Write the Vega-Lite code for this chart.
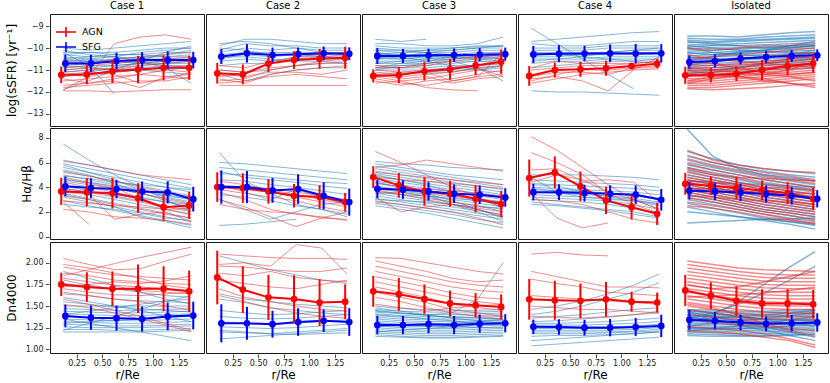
{
"$schema":"https://vega.github.io/schema/vega-lite/v6.json",
"padding":{"left":5,"top":1,"right":5,"bottom":0},
"datasets":{
"D":[
{"r":1,"p":1,"g":"S","i":1,"0.12":-10.2,"0.37":-10.8,"0.62":-12.1},
{"r":1,"p":1,"g":"S","i":2,"0.12":-10,"0.37":-10.1,"0.62":-10,"0.87":-9.9,"1.12":-9.8,"1.37":-9.7},
{"r":1,"p":1,"g":"S","i":3,"0.12":-10.3,"0.37":-10.2,"0.62":-10.2,"0.87":-10.1,"1.12":-10,"1.37":-10},
{"r":1,"p":1,"g":"S","i":4,"0.12":-10.5,"0.37":-10.4,"0.62":-10.3,"0.87":-10.3,"1.12":-10.2,"1.37":-10.2},
{"r":1,"p":1,"g":"S","i":5,"0.12":-10.6,"0.37":-10.6,"0.62":-10.5,"0.87":-10.4,"1.12":-10.4,"1.37":-10.3},
{"r":1,"p":1,"g":"S","i":6,"0.12":-10.8,"0.37":-10.7,"0.62":-10.6,"0.87":-10.6,"1.12":-10.5,"1.37":-10.5},
{"r":1,"p":1,"g":"S","i":7,"0.12":-11,"0.37":-10.9,"0.62":-10.8,"0.87":-10.7,"1.12":-10.7,"1.37":-10.6},
{"r":1,"p":1,"g":"S","i":8,"0.12":-11.1,"0.37":-11,"0.62":-11,"0.87":-10.9,"1.12":-10.8,"1.37":-10.8},
{"r":1,"p":1,"g":"S","i":9,"0.12":-11.3,"0.37":-11.2,"0.62":-11.1,"0.87":-11,"1.12":-11,"1.37":-10.9},
{"r":1,"p":1,"g":"S","i":10,"0.12":-10.4,"0.37":-10.5,"0.62":-10.6,"0.87":-10.7,"1.12":-10.8,"1.37":-10.9},
{"r":1,"p":1,"g":"S","i":11,"0.12":-10.1,"0.37":-10.3,"0.62":-10.4,"0.87":-10.6,"1.12":-10.9,"1.37":-11.6},
{"r":1,"p":1,"g":"S","i":12,"0.12":-11.9,"0.37":-11.5,"0.62":-11,"0.87":-10.6,"1.12":-10.2,"1.37":-9.9},
{"r":1,"p":1,"g":"S","i":13,"0.12":-10.7,"0.37":-10.6,"0.62":-10.6,"0.87":-10.5,"1.12":-10.3,"1.37":-10.1},
{"r":1,"p":1,"g":"S","i":14,"0.12":-10.9,"0.37":-10.8,"0.62":-10.8,"0.87":-10.7,"1.12":-10.6,"1.37":-10.6},
{"r":1,"p":1,"g":"S","i":15,"0.12":-10.2,"0.37":-10.2,"0.62":-10.3,"0.87":-10.3,"1.12":-10.4,"1.37":-10.4},
{"r":1,"p":1,"g":"S","i":16,"0.12":-10.6,"0.37":-10.5,"0.62":-10.4,"0.87":-10.2,"1.12":-10.1,"1.37":-10},
{"r":1,"p":1,"g":"S","i":17,"0.12":-11.2,"0.37":-11.1,"0.62":-10.9,"0.87":-10.8,"1.12":-10.7,"1.37":-10.7},
{"r":1,"p":1,"g":"S","i":18,"0.12":-10.3,"0.37":-10.4,"0.62":-10.4,"0.87":-10.5,"1.12":-10.5,"1.37":-10.6},
{"r":1,"p":1,"g":"S","i":19,"0.12":-10.8,"0.37":-10.9,"0.62":-11,"0.87":-11,"1.12":-11.1,"1.37":-11.2},
{"r":1,"p":1,"g":"S","i":20,"0.12":-10.5,"0.37":-10.6,"0.62":-10.7,"0.87":-10.6,"1.12":-10.6,"1.37":-10.5},
{"r":1,"p":1,"g":"A","i":1,"0.12":-11.9,"0.37":-11.3,"0.62":-9.8,"0.87":-9.5,"1.12":-9.4,"1.37":-9.6},
{"r":1,"p":1,"g":"A","i":2,"0.12":-11.95,"0.37":-11.95,"0.62":-12,"0.87":-11.95,"1.12":-11.9,"1.37":-11.9},
{"r":1,"p":1,"g":"A","i":3,"0.12":-11.2,"0.37":-11.3,"0.62":-11.1,"0.87":-11,"1.12":-10.9,"1.37":-10.8},
{"r":1,"p":1,"g":"A","i":4,"0.12":-11.5,"0.37":-11.4,"0.62":-11.3,"0.87":-11.2,"1.12":-11,"1.37":-11.1},
{"r":1,"p":1,"g":"A","i":5,"0.12":-10.9,"0.37":-10.8,"0.62":-10.7,"0.87":-10.6,"1.12":-10.5,"1.37":-10.4},
{"r":1,"p":1,"g":"A","i":6,"0.12":-11.7,"0.37":-11.6,"0.62":-11.5,"0.87":-11.8,"1.12":-11.3,"1.37":-11.2},
{"r":1,"p":1,"g":"A","i":7,"0.12":-11,"0.37":-10.9,"0.62":-11,"0.87":-10.8,"1.12":-10.7,"1.37":-10.6},
{"r":1,"p":1,"g":"A","i":8,"0.12":-11.4,"0.37":-11.6,"0.62":-11.4,"0.87":-11.2,"1.12":-11.3,"1.37":-11.4},
{"r":1,"p":1,"g":"A","i":9,"0.12":-11.8,"0.37":-11.7,"0.62":-11.6,"0.87":-11.5,"1.12":-11.5,"1.37":-11.3},
{"r":1,"p":1,"g":"A","i":10,"0.12":-11.1,"0.37":-11,"0.62":-10.9,"0.87":-10.7,"1.12":-10.6,"1.37":-10.5},
{"r":1,"p":1,"g":"A","i":11,"0.12":-11.3,"0.37":-11.1,"0.62":-11.2,"0.87":-11.6,"1.12":-11.4,"1.37":-11.1},
{"r":1,"p":1,"g":"A","i":12,"0.12":-10.6,"0.37":-10.7,"0.62":-10.5,"0.87":-10.4,"1.12":-10.3,"1.37":-10.2},
{"r":1,"p":2,"g":"S","i":1,"0.12":-9.9,"0.37":-9.6,"0.62":-9.6,"0.87":-9.7,"1.12":-9.8,"1.37":-9.8},
{"r":1,"p":2,"g":"S","i":2,"0.12":-10.1,"0.37":-9.8,"0.62":-9.9,"0.87":-9.9,"1.12":-10,"1.37":-10},
{"r":1,"p":2,"g":"S","i":3,"0.12":-10.2,"0.37":-10,"0.62":-10.1,"0.87":-10,"1.12":-10.1,"1.37":-10.1},
{"r":1,"p":2,"g":"S","i":4,"0.12":-10.3,"0.37":-10.2,"0.62":-10.2,"0.87":-10.2,"1.12":-10.2,"1.37":-10.2},
{"r":1,"p":2,"g":"S","i":5,"0.12":-10.5,"0.37":-10.3,"0.62":-10.4,"0.87":-10.3,"1.12":-10.3,"1.37":-10.3},
{"r":1,"p":2,"g":"S","i":6,"0.12":-10.6,"0.37":-10.5,"0.62":-10.6,"0.87":-10.4,"1.12":-10.4,"1.37":-10.4},
{"r":1,"p":2,"g":"S","i":7,"0.12":-10.8,"0.37":-10.7,"0.62":-10.7,"0.87":-10.5,"1.12":-10.5,"1.37":-10.5},
{"r":1,"p":2,"g":"S","i":8,"0.12":-11,"0.37":-11.1,"0.62":-11,"0.87":-10.8,"1.12":-10.7,"1.37":-10.6},
{"r":1,"p":2,"g":"S","i":9,"0.12":-11.2,"0.37":-11.5,"0.62":-11.2,"0.87":-11,"1.12":-10.9,"1.37":-10.9},
{"r":1,"p":2,"g":"S","i":10,"0.12":-10,"0.37":-10.1,"0.62":-10.3,"0.87":-10.3,"1.12":-10.4,"1.37":-10.5},
{"r":1,"p":2,"g":"S","i":11,"0.12":-10.4,"0.37":-10.4,"0.62":-10.5,"0.87":-10.6,"1.12":-10.6,"1.37":-10.7},
{"r":1,"p":2,"g":"S","i":12,"0.12":-9.8,"0.37":-9.7,"0.62":-9.8,"0.87":-10,"1.12":-10.2,"1.37":-10.3},
{"r":1,"p":2,"g":"A","i":1,"0.12":-11.7,"0.37":-11.7,"0.62":-11.7,"0.87":-11.7,"1.12":-11.7,"1.37":-11.7},
{"r":1,"p":2,"g":"A","i":2,"0.12":-11.5,"0.37":-11.4,"0.62":-11,"0.87":-10.8,"1.12":-10.6,"1.37":-10.5},
{"r":1,"p":2,"g":"A","i":3,"0.12":-11.3,"0.37":-11.2,"0.62":-10.7,"0.87":-10.4,"1.12":-10.3,"1.37":-10.2},
{"r":1,"p":2,"g":"A","i":4,"0.12":-11,"0.37":-11.1,"0.62":-10.9,"0.87":-10.8,"1.12":-10.7,"1.37":-10.7},
{"r":1,"p":2,"g":"A","i":5,"0.12":-11.4,"0.37":-11.6,"0.62":-11.2,"0.87":-11,"1.12":-10.9,"1.37":-10.8},
{"r":1,"p":2,"g":"A","i":6,"0.12":-10.8,"0.37":-10.9,"0.62":-10.6,"0.87":-10.5,"1.12":-10.4,"1.37":-10.3},
{"r":1,"p":2,"g":"A","i":7,"0.12":-11.2,"0.37":-11.3,"0.62":-11.1,"0.87":-11.1,"1.12":-11.2,"1.37":-11},
{"r":1,"p":2,"g":"A","i":8,"0.12":-11.6,"0.37":-11.5,"0.62":-11.3,"0.87":-11.2,"1.12":-11.3,"1.37":-11.4},
{"r":1,"p":3,"g":"S","i":1,"0.12":-9.6,"0.37":-9.7,"0.62":-9.6},
{"r":1,"p":3,"g":"S","i":2,"0.12":-9.8,"0.37":-9.8,"0.62":-9.9,"0.87":-9.9,"1.12":-9.8,"1.37":-9.5},
{"r":1,"p":3,"g":"S","i":3,"0.12":-9.9,"0.37":-10,"0.62":-10,"0.87":-10,"1.12":-9.9,"1.37":-9.9},
{"r":1,"p":3,"g":"S","i":4,"0.12":-10,"0.37":-10.1,"0.62":-10.1,"0.87":-10.1,"1.12":-10,"1.37":-10},
{"r":1,"p":3,"g":"S","i":5,"0.12":-10.1,"0.37":-10.2,"0.62":-10.2,"0.87":-10.2,"1.12":-10.1,"1.37":-10.1},
{"r":1,"p":3,"g":"S","i":6,"0.12":-10.2,"0.37":-10.3,"0.62":-10.3,"0.87":-10.3,"1.12":-10.2,"1.37":-10.2},
{"r":1,"p":3,"g":"S","i":7,"0.12":-10.3,"0.37":-10.3,"0.62":-10.4,"0.87":-10.3,"1.12":-10.3,"1.37":-10.3},
{"r":1,"p":3,"g":"S","i":8,"0.12":-10.4,"0.37":-10.4,"0.62":-10.4,"0.87":-10.4,"1.12":-10.3,"1.37":-10.3},
{"r":1,"p":3,"g":"S","i":9,"0.12":-10.5,"0.37":-10.5,"0.62":-10.5,"0.87":-10.5,"1.12":-10.4,"1.37":-10.4},
{"r":1,"p":3,"g":"S","i":10,"0.12":-10.6,"0.37":-10.6,"0.62":-10.6,"0.87":-10.5,"1.12":-10.5,"1.37":-10.5},
{"r":1,"p":3,"g":"S","i":11,"0.12":-10.7,"0.37":-10.7,"0.62":-10.7,"0.87":-10.6,"1.12":-10.6,"1.37":-10.6},
{"r":1,"p":3,"g":"S","i":12,"0.12":-10.8,"0.37":-10.8,"0.62":-10.8,"0.87":-10.7,"1.12":-10.6,"1.37":-10.7},
{"r":1,"p":3,"g":"S","i":13,"0.12":-10.9,"0.37":-10.9,"0.62":-10.9,"0.87":-10.8,"1.12":-10.8,"1.37":-10.7},
{"r":1,"p":3,"g":"S","i":14,"0.12":-11,"0.37":-11,"0.62":-11,"0.87":-10.9,"1.12":-10.9,"1.37":-10.8},
{"r":1,"p":3,"g":"S","i":15,"0.12":-11.2,"0.37":-11.1,"0.62":-11.1,"0.87":-11,"1.12":-11,"1.37":-10.9},
{"r":1,"p":3,"g":"S","i":16,"0.12":-11,"0.37":-10.8,"0.62":-10.7,"0.87":-10.6,"1.12":-10.9,"1.37":-11.5},
{"r":1,"p":3,"g":"S","i":17,"0.12":-10.2,"0.37":-10.4,"0.62":-10.6,"0.87":-10.8,"1.12":-11,"1.37":-11.1},
{"r":1,"p":3,"g":"S","i":18,"0.12":-10.5,"0.37":-10.4,"0.62":-10.2,"0.87":-10.1,"1.12":-10,"1.37":-9.9},
{"r":1,"p":3,"g":"S","i":19,"0.12":-10.3,"0.37":-10.2,"0.62":-10.1,"0.87":-10,"1.12":-9.95,"1.37":-9.9},
{"r":1,"p":3,"g":"S","i":20,"0.12":-10.7,"0.37":-10.6,"0.62":-10.5,"0.87":-10.4,"1.12":-10.3,"1.37":-10.2},
{"r":1,"p":3,"g":"S","i":21,"0.12":-10.9,"0.37":-10.7,"0.62":-10.6,"0.87":-10.4,"1.12":-10.4,"1.37":-10.3},
{"r":1,"p":3,"g":"S","i":22,"0.12":-10.1,"0.37":-10.1,"0.62":-10.2,"0.87":-10.3,"1.12":-10.4,"1.37":-10.5},
{"r":1,"p":3,"g":"S","i":23,"0.12":-10.4,"0.37":-10.5,"0.62":-10.4,"0.87":-10.4,"1.12":-10.5,"1.37":-10.6},
{"r":1,"p":3,"g":"S","i":24,"0.12":-11.3,"0.37":-11.2,"0.62":-11.1,"0.87":-11.1,"1.12":-10.9,"1.37":-10.8},
{"r":1,"p":3,"g":"A","i":1,"0.12":-11.3,"0.37":-11.5,"0.62":-11.8,"0.87":-11.9,"1.12":-11.95},
{"r":1,"p":3,"g":"A","i":2,"0.12":-11.2,"0.37":-11.4,"0.62":-11.3,"0.87":-11.6,"1.12":-11.4,"1.37":-11.3},
{"r":1,"p":3,"g":"A","i":3,"0.12":-11,"0.37":-11.1,"0.62":-11,"0.87":-10.9,"1.12":-10.8,"1.37":-10.7},
{"r":1,"p":3,"g":"A","i":4,"0.12":-11.5,"0.37":-11.7,"0.62":-11.5,"0.87":-11.4,"1.12":-11.2,"1.37":-11},
{"r":1,"p":3,"g":"A","i":5,"0.12":-11.1,"0.37":-11.2,"0.62":-11.1,"0.87":-11.5,"1.12":-11.3,"1.37":-10.2},
{"r":1,"p":3,"g":"A","i":6,"0.12":-10.9,"0.37":-10.9,"0.62":-10.8,"0.87":-10.6,"1.12":-10.5,"1.37":-10.4},
{"r":1,"p":3,"g":"A","i":7,"0.12":-11.6,"0.37":-11.5,"0.62":-11.4,"0.87":-11.2,"1.12":-11,"1.37":-10.8},
{"r":1,"p":3,"g":"A","i":8,"0.12":-11.2,"0.37":-11.3,"0.62":-11.2,"0.87":-11.1,"1.12":-10.9,"1.37":-11.3},
{"r":1,"p":3,"g":"A","i":9,"0.12":-11.4,"0.37":-11.6,"0.62":-11.7,"0.87":-11.5,"1.12":-11.3,"1.37":-11.2},
{"r":1,"p":3,"g":"A","i":10,"0.12":-10.8,"0.37":-10.9,"0.62":-10.7,"0.87":-10.5,"1.12":-10.4,"1.37":-10.3},
{"r":1,"p":4,"g":"S","i":1,"0.12":-9.1,"0.37":-9.8,"0.62":-10.5,"0.87":-11.2,"1.12":-11.85},
{"r":1,"p":4,"g":"S","i":2,"0.12":-11.95,"0.37":-12,"0.62":-12,"0.87":-12.05,"1.12":-12.1,"1.37":-12.15},
{"r":1,"p":4,"g":"S","i":3,"0.12":-9.7,"0.37":-9.6,"0.62":-9.5,"0.87":-9.4,"1.12":-9.3,"1.37":-9.25},
{"r":1,"p":4,"g":"S","i":4,"0.12":-9.8,"0.37":-9.9,"0.62":-9.9,"0.87":-9.8,"1.12":-9.7,"1.37":-9.7},
{"r":1,"p":4,"g":"S","i":5,"0.12":-10,"0.37":-10,"0.62":-10,"0.87":-9.9,"1.12":-9.9,"1.37":-9.9},
{"r":1,"p":4,"g":"S","i":6,"0.12":-10.1,"0.37":-10.1,"0.62":-10.1,"0.87":-10,"1.12":-10,"1.37":-10},
{"r":1,"p":4,"g":"S","i":7,"0.12":-10.2,"0.37":-10.2,"0.62":-10.2,"0.87":-10.2,"1.12":-10.1,"1.37":-10.1},
{"r":1,"p":4,"g":"S","i":8,"0.12":-10.3,"0.37":-10.3,"0.62":-10.3,"0.87":-10.3,"1.12":-10.2,"1.37":-10.2},
{"r":1,"p":4,"g":"S","i":9,"0.12":-10.4,"0.37":-10.4,"0.62":-10.3,"0.87":-10.3,"1.12":-10.3,"1.37":-10.3},
{"r":1,"p":4,"g":"S","i":10,"0.12":-10.5,"0.37":-10.5,"0.62":-10.5,"0.87":-10.4,"1.12":-10.4,"1.37":-10.4},
{"r":1,"p":4,"g":"S","i":11,"0.12":-10.7,"0.37":-10.6,"0.62":-10.6,"0.87":-10.5,"1.12":-10.5,"1.37":-10.5},
{"r":1,"p":4,"g":"S","i":12,"0.12":-10.9,"0.37":-10.8,"0.62":-10.7,"0.87":-10.6,"1.12":-10.6,"1.37":-10.5},
{"r":1,"p":4,"g":"S","i":13,"0.12":-10.2,"0.37":-10.3,"0.62":-10.4,"0.87":-10.5,"1.12":-10.6,"1.37":-10.7},
{"r":1,"p":4,"g":"S","i":14,"0.12":-10.6,"0.37":-10.5,"0.62":-10.4,"0.87":-10.2,"1.12":-10.1,"1.37":-10},
{"r":1,"p":4,"g":"A","i":1,"0.12":-11.4,"0.37":-11.3,"0.62":-11.5,"0.87":-11.95,"1.12":-11,"1.37":-10.4},
{"r":1,"p":4,"g":"A","i":2,"0.12":-11.5,"0.37":-11.2,"0.62":-11,"0.87":-11,"1.12":-10.9,"1.37":-10.8},
{"r":1,"p":4,"g":"A","i":3,"0.12":-11,"0.37":-10.9,"0.62":-10.8,"0.87":-10.8,"1.12":-10.7,"1.37":-10.6},
{"r":1,"p":4,"g":"A","i":4,"0.12":-11.3,"0.37":-11.1,"0.62":-11.1,"0.87":-11.2,"1.12":-10.9,"1.37":-10.9},
{"r":1,"p":4,"g":"A","i":5,"0.12":-10.9,"0.37":-10.6,"0.62":-10.7,"0.87":-10.7,"1.12":-10.7,"1.37":-10.6},
{"r":1,"p":4,"g":"A","i":6,"0.12":-11.6,"0.37":-11.4,"0.62":-11.2,"0.87":-11.1,"1.12":-11,"1.37":-10.95},
{"r":1,"p":5,"g":"S","i":1,"0.12":-9.45,"0.37":-9.45,"0.62":-9.5,"0.87":-9.4,"1.12":-9.3,"1.37":-9.25},
{"r":1,"p":5,"g":"S","i":2,"0.12":-9.55,"0.37":-9.6,"0.62":-9.6,"0.87":-9.5,"1.12":-9.45,"1.37":-9.4},
{"r":1,"p":5,"g":"S","i":3,"0.12":-9.65,"0.37":-9.7,"0.62":-9.65,"0.87":-9.6,"1.12":-9.55,"1.37":-9.5},
{"r":1,"p":5,"g":"S","i":4,"0.12":-9.75,"0.37":-9.75,"0.62":-9.7,"0.87":-9.65,"1.12":-9.6,"1.37":-9.55},
{"r":1,"p":5,"g":"S","i":5,"0.12":-9.85,"0.37":-9.85,"0.62":-9.8,"0.87":-9.75,"1.12":-9.7,"1.37":-9.65},
{"r":1,"p":5,"g":"S","i":6,"0.12":-9.95,"0.37":-9.9,"0.62":-9.9,"0.87":-9.85,"1.12":-9.8,"1.37":-9.75},
{"r":1,"p":5,"g":"S","i":7,"0.12":-10.05,"0.37":-10,"0.62":-10,"0.87":-9.95,"1.12":-9.9,"1.37":-9.85},
{"r":1,"p":5,"g":"S","i":8,"0.12":-10.15,"0.37":-10.1,"0.62":-10.05,"0.87":-10,"1.12":-9.95,"1.37":-9.9},
{"r":1,"p":5,"g":"S","i":9,"0.12":-10.25,"0.37":-10.2,"0.62":-10.15,"0.87":-10.1,"1.12":-10.05,"1.37":-10},
{"r":1,"p":5,"g":"S","i":10,"0.12":-10.35,"0.37":-10.3,"0.62":-10.25,"0.87":-10.2,"1.12":-10.15,"1.37":-10.1},
{"r":1,"p":5,"g":"S","i":11,"0.12":-10.45,"0.37":-10.4,"0.62":-10.35,"0.87":-10.3,"1.12":-10.25,"1.37":-10.2},
{"r":1,"p":5,"g":"S","i":12,"0.12":-10.55,"0.37":-10.5,"0.62":-10.45,"0.87":-10.4,"1.12":-10.35,"1.37":-10.3},
{"r":1,"p":5,"g":"S","i":13,"0.12":-10.65,"0.37":-10.6,"0.62":-10.55,"0.87":-10.5,"1.12":-10.45,"1.37":-10.4},
{"r":1,"p":5,"g":"S","i":14,"0.12":-10.75,"0.37":-10.7,"0.62":-10.65,"0.87":-10.6,"1.12":-10.55,"1.37":-10.5},
{"r":1,"p":5,"g":"S","i":15,"0.12":-10.85,"0.37":-10.8,"0.62":-10.75,"0.87":-10.7,"1.12":-10.65,"1.37":-10.6},
{"r":1,"p":5,"g":"S","i":16,"0.12":-10.95,"0.37":-10.9,"0.62":-10.85,"0.87":-10.8,"1.12":-10.75,"1.37":-10.7},
{"r":1,"p":5,"g":"S","i":17,"0.12":-11.05,"0.37":-11,"0.62":-10.95,"0.87":-10.9,"1.12":-10.85,"1.37":-10.8},
{"r":1,"p":5,"g":"S","i":18,"0.12":-11.15,"0.37":-11.1,"0.62":-11.05,"0.87":-11,"1.12":-10.95,"1.37":-10.9},
{"r":1,"p":5,"g":"S","i":19,"0.12":-10,"0.37":-10.2,"0.62":-10.3,"0.87":-10.35,"1.12":-10.4,"1.37":-10.5},
{"r":1,"p":5,"g":"S","i":20,"0.12":-10.6,"0.37":-10.4,"0.62":-10.2,"0.87":-10.1,"1.12":-10,"1.37":-9.9},
{"r":1,"p":5,"g":"S","i":21,"0.12":-9.9,"0.37":-10,"0.62":-10.1,"0.87":-10.15,"1.12":-10.2,"1.37":-10.25},
{"r":1,"p":5,"g":"S","i":22,"0.12":-10.4,"0.37":-10.5,"0.62":-10.5,"0.87":-10.45,"1.12":-10.3,"1.37":-10.1},
{"r":1,"p":5,"g":"S","i":23,"0.12":-10.8,"0.37":-10.6,"0.62":-10.5,"0.87":-10.4,"1.12":-10.3,"1.37":-10.25},
{"r":1,"p":5,"g":"S","i":24,"0.12":-9.7,"0.37":-9.8,"0.62":-9.9,"0.87":-10,"1.12":-10,"1.37":-9.9},
{"r":1,"p":5,"g":"S","i":25,"0.12":-10.2,"0.37":-10.3,"0.62":-10.2,"0.87":-10.1,"1.12":-9.9,"1.37":-9.7},
{"r":1,"p":5,"g":"S","i":26,"0.12":-11.2,"0.37":-11,"0.62":-10.9,"0.87":-10.7,"1.12":-10.6,"1.37":-10.5},
{"r":1,"p":5,"g":"A","i":1,"0.12":-10.5,"0.37":-10.4,"0.62":-10.3,"0.87":-10.2,"1.12":-10.1,"1.37":-10},
{"r":1,"p":5,"g":"A","i":2,"0.12":-10.7,"0.37":-10.6,"0.62":-10.5,"0.87":-10.4,"1.12":-10.3,"1.37":-10.2},
{"r":1,"p":5,"g":"A","i":3,"0.12":-10.8,"0.37":-10.8,"0.62":-10.7,"0.87":-10.6,"1.12":-10.5,"1.37":-10.4},
{"r":1,"p":5,"g":"A","i":4,"0.12":-10.9,"0.37":-10.9,"0.62":-10.8,"0.87":-10.7,"1.12":-10.6,"1.37":-10.5},
{"r":1,"p":5,"g":"A","i":5,"0.12":-11,"0.37":-11,"0.62":-10.9,"0.87":-10.8,"1.12":-10.7,"1.37":-10.6},
{"r":1,"p":5,"g":"A","i":6,"0.12":-11.1,"0.37":-11.1,"0.62":-11,"0.87":-10.9,"1.12":-10.8,"1.37":-10.7},
{"r":1,"p":5,"g":"A","i":7,"0.12":-11.2,"0.37":-11.2,"0.62":-11.1,"0.87":-11,"1.12":-10.9,"1.37":-10.8},
{"r":1,"p":5,"g":"A","i":8,"0.12":-11.3,"0.37":-11.3,"0.62":-11.2,"0.87":-11.1,"1.12":-11,"1.37":-10.9},
{"r":1,"p":5,"g":"A","i":9,"0.12":-11.4,"0.37":-11.4,"0.62":-11.3,"0.87":-11.2,"1.12":-11.1,"1.37":-11},
{"r":1,"p":5,"g":"A","i":10,"0.12":-11.5,"0.37":-11.5,"0.62":-11.4,"0.87":-11.3,"1.12":-11.2,"1.37":-11.1},
{"r":1,"p":5,"g":"A","i":11,"0.12":-11.6,"0.37":-11.6,"0.62":-11.5,"0.87":-11.4,"1.12":-11.3,"1.37":-11.2},
{"r":1,"p":5,"g":"A","i":12,"0.12":-11.7,"0.37":-11.7,"0.62":-11.6,"0.87":-11.5,"1.12":-11.4,"1.37":-11.3},
{"r":1,"p":5,"g":"A","i":13,"0.12":-11.8,"0.37":-11.8,"0.62":-11.7,"0.87":-11.6,"1.12":-11.5,"1.37":-11.4},
{"r":1,"p":5,"g":"A","i":14,"0.12":-11.85,"0.37":-11.9,"0.62":-11.85,"0.87":-11.8,"1.12":-11.7,"1.37":-11.6},
{"r":1,"p":5,"g":"A","i":15,"0.12":-10,"0.37":-10.1,"0.62":-10,"0.87":-9.9,"1.12":-9.9,"1.37":-9.8},
{"r":1,"p":5,"g":"A","i":16,"0.12":-10.3,"0.37":-10.5,"0.62":-10.6,"0.87":-10.7,"1.12":-10.8,"1.37":-10.9},
{"r":1,"p":5,"g":"A","i":17,"0.12":-11.6,"0.37":-11.4,"0.62":-11.2,"0.87":-11.2,"1.12":-11,"1.37":-10.6},
{"r":1,"p":5,"g":"A","i":18,"0.12":-11,"0.37":-11.2,"0.62":-11.3,"0.87":-11.5,"1.12":-11.6,"1.37":-11.8},
{"r":1,"p":5,"g":"A","i":19,"0.12":-10.9,"0.37":-11,"0.62":-11.1,"0.87":-11.2,"1.12":-11.3,"1.37":-11.5},
{"r":1,"p":5,"g":"A","i":20,"0.12":-11.3,"0.37":-11.1,"0.62":-10.9,"0.87":-10.7,"1.12":-10.5,"1.37":-10.3},
{"r":1,"p":5,"g":"A","i":21,"0.12":-10.6,"0.37":-10.7,"0.62":-10.9,"0.87":-11.1,"1.12":-11.2,"1.37":-11.1},
{"r":1,"p":5,"g":"A","i":22,"0.12":-11.5,"0.37":-11.3,"0.62":-11.3,"0.87":-11.4,"1.12":-11.6,"1.37":-11.7},
{"r":2,"p":1,"g":"S","i":1,"0.12":7.5,"0.37":6.2,"0.62":5,"0.87":4,"1.12":3,"1.37":2},
{"r":2,"p":1,"g":"S","i":2,"0.12":6.2,"0.37":5.8,"0.62":5.4,"0.87":5,"1.12":4.6,"1.37":4.2},
{"r":2,"p":1,"g":"S","i":3,"0.12":5.9,"0.37":5.5,"0.62":5.1,"0.87":4.7,"1.12":4.3,"1.37":3.9},
{"r":2,"p":1,"g":"S","i":4,"0.12":5.6,"0.37":5.2,"0.62":4.8,"0.87":4.4,"1.12":4,"1.37":3.6},
{"r":2,"p":1,"g":"S","i":5,"0.12":5.3,"0.37":4.9,"0.62":4.5,"0.87":4.1,"1.12":3.7,"1.37":3.3},
{"r":2,"p":1,"g":"S","i":6,"0.12":5,"0.37":4.6,"0.62":4.2,"0.87":3.8,"1.12":3.4,"1.37":3},
{"r":2,"p":1,"g":"S","i":7,"0.12":4.7,"0.37":4.3,"0.62":3.9,"0.87":3.5,"1.12":3.1,"1.37":2.7},
{"r":2,"p":1,"g":"S","i":8,"0.12":4.4,"0.37":4,"0.62":3.6,"0.87":3.2,"1.12":2.8,"1.37":2.4},
{"r":2,"p":1,"g":"S","i":9,"0.12":4.1,"0.37":3.7,"0.62":3.3,"0.87":2.9,"1.12":2.5,"1.37":2.1},
{"r":2,"p":1,"g":"S","i":10,"0.12":3.8,"0.37":3.4,"0.62":3,"0.87":2.6,"1.12":2.2,"1.37":1.8},
{"r":2,"p":1,"g":"S","i":11,"0.12":3.5,"0.37":3.1,"0.62":2.7,"0.87":2.3,"1.12":1.9,"1.37":1.5},
{"r":2,"p":1,"g":"S","i":12,"0.12":3.2,"0.37":2.8,"0.62":2.4,"0.87":2,"1.12":1.6,"1.37":1.2},
{"r":2,"p":1,"g":"S","i":13,"0.12":2.9,"0.37":2.5,"0.62":2.1,"0.87":1.7,"1.12":1.3,"1.37":0.9},
{"r":2,"p":1,"g":"S","i":14,"0.12":4.9,"0.37":4.7,"0.62":4.4,"0.87":4.2,"1.12":4,"1.37":3.8},
{"r":2,"p":1,"g":"S","i":15,"0.12":5.4,"0.37":5,"0.62":4.3,"0.87":3.6,"1.12":2.9,"1.37":2.2},
{"r":2,"p":1,"g":"S","i":16,"0.12":3.4,"0.37":3,"0.62":2.4,"0.87":1.6,"1.12":1.2,"1.37":0.7},
{"r":2,"p":1,"g":"S","i":17,"0.12":2.6,"0.37":2.4,"0.62":2.2,"0.87":1.9,"1.12":1.5,"1.37":1.3},
{"r":2,"p":1,"g":"S","i":18,"0.12":4.6,"0.37":4.4,"0.62":4.1,"0.87":3.7,"1.12":3.3,"1.37":3},
{"r":2,"p":1,"g":"S","i":19,"0.12":3.9,"0.37":3.6,"0.62":3.4,"0.87":3.1,"1.12":2.8,"1.37":2.6},
{"r":2,"p":1,"g":"S","i":20,"0.12":5.8,"0.37":5.2,"0.62":4.6,"0.87":3.8,"1.12":3.2,"1.37":2.8},
{"r":2,"p":1,"g":"A","i":1,"0.12":6.1,"0.37":5.8,"0.62":5.4,"0.87":5,"1.12":4.8,"1.37":4.6},
{"r":2,"p":1,"g":"A","i":2,"0.12":5.2,"0.37":4.9,"0.62":4.5,"0.87":4,"1.12":3.6,"1.37":3.2},
{"r":2,"p":1,"g":"A","i":3,"0.12":4.5,"0.37":4.2,"0.62":3.9,"0.87":3.5,"1.12":3,"1.37":2.6},
{"r":2,"p":1,"g":"A","i":4,"0.12":3.9,"0.37":3.6,"0.62":3.2,"0.87":2.8,"1.12":2.4,"1.37":2},
{"r":2,"p":1,"g":"A","i":5,"0.12":3.3,"0.37":3,"0.62":2.6,"0.87":2.2,"1.12":1.8,"1.37":1.5},
{"r":2,"p":1,"g":"A","i":6,"0.12":2.8,"0.37":1},
{"r":2,"p":1,"g":"A","i":7,"0.12":2.2,"0.37":2,"0.62":1.6,"0.87":1.5,"1.12":1.3,"1.37":1},
{"r":2,"p":1,"g":"A","i":8,"0.12":4.8,"0.37":4.4,"0.62":4,"0.87":3,"1.12":2.2,"1.37":1.8},
{"r":2,"p":1,"g":"A","i":9,"0.12":3.6,"0.37":3.4,"0.62":1.4,"0.87":1.8,"1.12":2,"1.37":1.2},
{"r":2,"p":1,"g":"A","i":10,"0.12":2.9,"0.37":2.7,"0.62":2.5,"0.87":2.4,"1.12":2.2,"1.37":2.3},
{"r":2,"p":2,"g":"S","i":1,"0.12":6.8,"0.37":4.5,"0.62":3.5,"0.87":2.6,"1.12":2.2,"1.37":1.6},
{"r":2,"p":2,"g":"S","i":2,"0.12":6,"0.37":5.9,"0.62":5.7,"0.87":5.5,"1.12":5.3,"1.37":5.1},
{"r":2,"p":2,"g":"S","i":3,"0.12":5.6,"0.37":5.4,"0.62":5.2,"0.87":5,"1.12":4.8,"1.37":4.6},
{"r":2,"p":2,"g":"S","i":4,"0.12":5.1,"0.37":5,"0.62":4.8,"0.87":4.6,"1.12":4.4,"1.37":4.3},
{"r":2,"p":2,"g":"S","i":5,"0.12":4.6,"0.37":4.5,"0.62":4.2,"0.87":4,"1.12":3.7,"1.37":3.4},
{"r":2,"p":2,"g":"S","i":6,"0.12":3,"0.37":2.2,"0.62":1.4,"0.87":2,"1.12":2.6,"1.37":2.8},
{"r":2,"p":2,"g":"S","i":7,"0.12":0.9,"0.37":1,"0.62":1.2,"0.87":1.4},
{"r":2,"p":2,"g":"S","i":8,"0.12":4.2,"0.37":3.6,"0.62":3,"0.87":3.8,"1.12":3.2,"1.37":2.6},
{"r":2,"p":2,"g":"S","i":9,"0.12":3.4,"0.37":3.2,"0.62":2.9,"0.87":2.5,"1.12":2.2,"1.37":1.8},
{"r":2,"p":2,"g":"S","i":10,"0.12":5.3,"0.37":4.8,"0.62":4.6,"0.87":4.4,"1.12":4.1,"1.37":3.9},
{"r":2,"p":2,"g":"A","i":1,"0.12":4.5,"0.37":4.2,"0.62":3.8,"0.87":3.4,"1.12":3,"1.37":2.6},
{"r":2,"p":2,"g":"A","i":2,"0.12":4,"0.37":3.8,"0.62":3.6,"0.87":3.2,"1.12":2.8,"1.37":2.4},
{"r":2,"p":2,"g":"A","i":3,"0.12":3.6,"0.37":3,"0.62":2.2,"0.87":1.8,"1.12":1.6,"1.37":1.3},
{"r":2,"p":2,"g":"A","i":4,"0.12":3,"0.37":2.4,"0.62":1.6,"0.87":0.8,"1.12":1.5,"1.37":2},
{"r":2,"p":2,"g":"A","i":5,"0.12":4.2,"0.37":4,"0.62":3.9,"0.87":3.6,"1.12":3.3,"1.37":3},
{"r":2,"p":2,"g":"A","i":6,"0.12":2.6,"0.37":2.2,"0.62":2,"0.87":1.9,"1.12":1.5,"1.37":1.4},
{"r":2,"p":2,"g":"A","i":7,"0.12":3.8,"0.37":3.5,"0.62":3.2,"0.87":2.9,"1.12":2.4,"1.37":2},
{"r":2,"p":3,"g":"S","i":1,"0.12":6.1,"0.37":5.9,"0.62":5.8,"0.87":5.6,"1.12":5.5,"1.37":5.4},
{"r":2,"p":3,"g":"S","i":2,"0.12":5.9,"0.37":5.6,"0.62":5.3,"0.87":5,"1.12":4.8,"1.37":4.6},
{"r":2,"p":3,"g":"S","i":3,"0.12":5.7,"0.37":5.4,"0.62":5.1,"0.87":4.8,"1.12":4.5,"1.37":4.2},
{"r":2,"p":3,"g":"S","i":4,"0.12":5.5,"0.37":5.2,"0.62":4.9,"0.87":4.6,"1.12":4.3,"1.37":4},
{"r":2,"p":3,"g":"S","i":5,"0.12":5.3,"0.37":5,"0.62":4.7,"0.87":4.4,"1.12":4.1,"1.37":3.8},
{"r":2,"p":3,"g":"S","i":6,"0.12":5.1,"0.37":4.8,"0.62":4.5,"0.87":4.2,"1.12":3.9,"1.37":3.6},
{"r":2,"p":3,"g":"S","i":7,"0.12":4.9,"0.37":4.6,"0.62":4.3,"0.87":4,"1.12":3.7,"1.37":3.4},
{"r":2,"p":3,"g":"S","i":8,"0.12":4.7,"0.37":4.4,"0.62":4.1,"0.87":3.8,"1.12":3.5,"1.37":3.2},
{"r":2,"p":3,"g":"S","i":9,"0.12":4.5,"0.37":4.2,"0.62":3.9,"0.87":3.6,"1.12":3.3,"1.37":3},
{"r":2,"p":3,"g":"S","i":10,"0.12":4.3,"0.37":4,"0.62":3.7,"0.87":3.4,"1.12":3.1,"1.37":2.8},
{"r":2,"p":3,"g":"S","i":11,"0.12":4.1,"0.37":3.8,"0.62":3.5,"0.87":3.2,"1.12":2.9,"1.37":2.6},
{"r":2,"p":3,"g":"S","i":12,"0.12":3.9,"0.37":3.6,"0.62":3.3,"0.87":3,"1.12":2.7,"1.37":2.4},
{"r":2,"p":3,"g":"S","i":13,"0.12":3.7,"0.37":3.4,"0.62":3.1,"0.87":2.8,"1.12":2.5,"1.37":2.2},
{"r":2,"p":3,"g":"S","i":14,"0.12":3.5,"0.37":3.2,"0.62":2.9,"0.87":2.6,"1.12":2.3,"1.37":2},
{"r":2,"p":3,"g":"S","i":15,"0.12":3.3,"0.37":3,"0.62":2.7,"0.87":2.4,"1.12":2.1,"1.37":1.8},
{"r":2,"p":3,"g":"S","i":16,"0.12":3.1,"0.37":2.8,"0.62":2.5,"0.87":2.2,"1.12":1.9,"1.37":1.6},
{"r":2,"p":3,"g":"S","i":17,"0.12":2.9,"0.37":2.6,"0.62":2.3,"0.87":2,"1.12":1.7,"1.37":1.4},
{"r":2,"p":3,"g":"S","i":18,"0.12":2.7,"0.37":2.4,"0.62":2.1,"0.87":1.8,"1.12":1.4,"1.37":1.1},
{"r":2,"p":3,"g":"S","i":19,"0.12":2.5,"0.37":2.2,"0.62":1.9,"0.87":1.5,"1.12":1.1,"1.37":0.7},
{"r":2,"p":3,"g":"S","i":20,"0.12":4.4,"0.37":4,"0.62":3.5,"0.87":2.9,"1.12":2.2,"1.37":1.5},
{"r":2,"p":3,"g":"S","i":21,"0.12":3.6,"0.37":3.4,"0.62":3.3,"0.87":3.1,"1.12":2.9,"1.37":2.8},
{"r":2,"p":3,"g":"S","i":22,"0.12":5,"0.37":4.6,"0.62":4.2,"0.87":3.6,"1.12":3,"1.37":2.4},
{"r":2,"p":3,"g":"S","i":23,"0.12":4,"0.37":3.7,"0.62":3.4,"0.87":2.6,"1.12":2,"1.37":1.2},
{"r":2,"p":3,"g":"S","i":24,"0.12":3,"0.37":2.9,"0.62":2.8,"0.87":2.6,"1.12":2.4,"1.37":2.3},
{"r":2,"p":3,"g":"A","i":1,"0.12":6.9,"0.37":6,"0.62":5,"0.87":4,"1.12":3.2,"1.37":2.3},
{"r":2,"p":3,"g":"A","i":2,"0.12":5.6,"0.37":5.8,"0.62":6.2,"0.87":5.9,"1.12":5.6,"1.37":5.3},
{"r":2,"p":3,"g":"A","i":3,"0.12":4.8,"0.37":4.6,"0.62":4.5,"0.87":4.3,"1.12":4.1,"1.37":3.9},
{"r":2,"p":3,"g":"A","i":4,"0.12":4.4,"0.37":4,"0.62":3.6,"0.87":3.3,"1.12":3,"1.37":2.8},
{"r":2,"p":3,"g":"A","i":5,"0.12":3.8,"0.37":3.4,"0.62":3,"0.87":2.6,"1.12":2.2,"1.37":1.7},
{"r":2,"p":3,"g":"A","i":6,"0.12":3.2,"0.37":2,"0.62":2.4,"0.87":2.6,"1.12":2.2,"1.37":1.6},
{"r":2,"p":3,"g":"A","i":7,"0.12":2.8,"0.37":2.6,"0.62":2.3,"0.87":2,"1.12":1.5,"1.37":0.95},
{"r":2,"p":3,"g":"A","i":8,"0.12":5.2,"0.37":5,"0.62":4.8,"0.87":4.6,"1.12":4.4,"1.37":4.2},
{"r":2,"p":3,"g":"A","i":9,"0.12":4,"0.37":3.8,"0.62":3.9,"0.87":3.7,"1.12":3.5,"1.37":3.3},
{"r":2,"p":3,"g":"A","i":10,"0.12":3.5,"0.37":3.6,"0.62":3.2,"0.87":2.8,"1.12":2.5,"1.37":2},
{"r":2,"p":4,"g":"S","i":1,"0.12":5,"0.37":5,"0.62":5,"0.87":4.9,"1.12":4.8,"1.37":4.6},
{"r":2,"p":4,"g":"S","i":2,"0.12":4.6,"0.37":4.5,"0.62":4.4,"0.87":4.3,"1.12":4.2,"1.37":4},
{"r":2,"p":4,"g":"S","i":3,"0.12":4.3,"0.37":4.2,"0.62":4.1,"0.87":4,"1.12":3.9,"1.37":3.7},
{"r":2,"p":4,"g":"S","i":4,"0.12":4,"0.37":3.9,"0.62":3.8,"0.87":3.7,"1.12":3.6,"1.37":3.4},
{"r":2,"p":4,"g":"S","i":5,"0.12":3.8,"0.37":3.7,"0.62":3.6,"0.87":3.5,"1.12":3.4,"1.37":3.1},
{"r":2,"p":4,"g":"S","i":6,"0.12":3.6,"0.37":3.5,"0.62":3.4,"0.87":3.3,"1.12":3.1,"1.37":2.8},
{"r":2,"p":4,"g":"S","i":7,"0.12":3.4,"0.37":3.3,"0.62":3.2,"0.87":3.1,"1.12":2.9,"1.37":2.5},
{"r":2,"p":4,"g":"S","i":8,"0.12":3.2,"0.37":3.1,"0.62":3,"0.87":2.9,"1.12":2.6,"1.37":2.2},
{"r":2,"p":4,"g":"S","i":9,"0.12":3,"0.37":2.9,"0.62":2.8,"0.87":2.6,"1.12":2.3,"1.37":1.9},
{"r":2,"p":4,"g":"S","i":10,"0.12":2.8,"0.37":2.6,"0.62":2.4,"0.87":2.2,"1.12":2,"1.37":1.6},
{"r":2,"p":4,"g":"S","i":11,"0.12":4.8,"0.37":3.6,"0.62":3.2,"0.87":3,"1.12":2.9,"1.37":2.7},
{"r":2,"p":4,"g":"S","i":12,"0.12":2.6,"0.37":2.5,"0.62":2.3,"0.87":2.1,"1.12":1.8,"1.37":1.5},
{"r":2,"p":4,"g":"S","i":13,"0.12":4.2,"0.37":4.1,"0.62":3.6,"0.87":3.2,"1.12":3,"1.37":2.6},
{"r":2,"p":4,"g":"S","i":14,"0.12":3.9,"0.37":3.7,"0.62":3.7,"0.87":3.5,"1.12":3.3,"1.37":3},
{"r":2,"p":4,"g":"A","i":1,"0.12":8.1,"0.37":7,"0.62":5.6,"0.87":4.2,"1.12":3,"1.37":2.2},
{"r":2,"p":4,"g":"A","i":2,"0.12":6.8,"0.37":6,"0.62":5,"0.87":3.5,"1.12":2.6,"1.37":1.9},
{"r":2,"p":4,"g":"A","i":3,"0.12":4.4,"0.37":5,"0.62":4.6,"0.87":3.6,"1.12":3,"1.37":2.2},
{"r":2,"p":4,"g":"A","i":4,"0.12":3.5,"0.37":1.5,"0.62":0.7,"0.87":1.1},
{"r":2,"p":4,"g":"A","i":5,"0.12":5.4,"0.37":5.5,"0.62":4.5,"0.87":4.6,"1.12":4.4,"1.37":2.8},
{"r":2,"p":4,"g":"A","i":6,"0.12":3,"0.37":2.9,"0.62":2.6,"0.87":2,"1.12":1.4,"1.37":1.1},
{"r":2,"p":5,"g":"S","i":1,"0.12":8.7,"0.37":6.5,"0.62":5.5,"0.87":5,"1.12":4.8,"1.37":4.5},
{"r":2,"p":5,"g":"S","i":2,"0.12":6.9,"0.37":6.3,"0.62":5.8,"0.87":5.5,"1.12":5.3,"1.37":5.1},
{"r":2,"p":5,"g":"S","i":3,"0.12":6.6,"0.37":6,"0.62":5.6,"0.87":5.3,"1.12":5,"1.37":4.8},
{"r":2,"p":5,"g":"S","i":4,"0.12":6.3,"0.37":5.8,"0.62":5.4,"0.87":5,"1.12":4.7,"1.37":4.5},
{"r":2,"p":5,"g":"S","i":5,"0.12":6,"0.37":5.6,"0.62":5.2,"0.87":4.8,"1.12":4.5,"1.37":4.2},
{"r":2,"p":5,"g":"S","i":6,"0.12":5.8,"0.37":5.4,"0.62":5,"0.87":4.6,"1.12":4.3,"1.37":4},
{"r":2,"p":5,"g":"S","i":7,"0.12":5.6,"0.37":5.2,"0.62":4.8,"0.87":4.4,"1.12":4.1,"1.37":3.8},
{"r":2,"p":5,"g":"S","i":8,"0.12":5.4,"0.37":5,"0.62":4.6,"0.87":4.2,"1.12":3.9,"1.37":3.6},
{"r":2,"p":5,"g":"S","i":9,"0.12":5.2,"0.37":4.8,"0.62":4.4,"0.87":4,"1.12":3.7,"1.37":3.4},
{"r":2,"p":5,"g":"S","i":10,"0.12":5,"0.37":4.6,"0.62":4.2,"0.87":3.8,"1.12":3.5,"1.37":3.2},
{"r":2,"p":5,"g":"S","i":11,"0.12":4.8,"0.37":4.4,"0.62":4,"0.87":3.6,"1.12":3.3,"1.37":3},
{"r":2,"p":5,"g":"S","i":12,"0.12":4.6,"0.37":4.2,"0.62":3.8,"0.87":3.4,"1.12":3.1,"1.37":2.8},
{"r":2,"p":5,"g":"S","i":13,"0.12":4.4,"0.37":4,"0.62":3.6,"0.87":3.2,"1.12":2.9,"1.37":2.6},
{"r":2,"p":5,"g":"S","i":14,"0.12":4.2,"0.37":3.8,"0.62":3.4,"0.87":3,"1.12":2.7,"1.37":2.4},
{"r":2,"p":5,"g":"S","i":15,"0.12":4,"0.37":3.6,"0.62":3.2,"0.87":2.8,"1.12":2.5,"1.37":2.2},
{"r":2,"p":5,"g":"S","i":16,"0.12":3.8,"0.37":3.4,"0.62":3,"0.87":2.6,"1.12":2.3,"1.37":2},
{"r":2,"p":5,"g":"S","i":17,"0.12":3.6,"0.37":3.2,"0.62":2.8,"0.87":2.4,"1.12":2.1,"1.37":1.8},
{"r":2,"p":5,"g":"S","i":18,"0.12":3.4,"0.37":3,"0.62":2.6,"0.87":2.2,"1.12":1.9,"1.37":1.6},
{"r":2,"p":5,"g":"S","i":19,"0.12":3.2,"0.37":2.8,"0.62":2.4,"0.87":2,"1.12":1.7,"1.37":1.4},
{"r":2,"p":5,"g":"S","i":20,"0.12":3,"0.37":2.6,"0.62":2.2,"0.87":1.8,"1.12":1.5,"1.37":1.2},
{"r":2,"p":5,"g":"S","i":21,"0.12":2.7,"0.37":2.3,"0.62":1.9,"0.87":1.5,"1.12":1.2,"1.37":0.9},
{"r":2,"p":5,"g":"S","i":22,"0.12":2.4,"0.37":2,"0.62":1.6,"0.87":1.3,"1.12":1,"1.37":0.6},
{"r":2,"p":5,"g":"S","i":23,"0.12":1.1,"0.37":1.2,"0.62":1.3,"0.87":1.4,"1.12":1.4,"1.37":1.5},
{"r":2,"p":5,"g":"S","i":24,"0.12":2,"0.37":1.8,"0.62":1.6,"0.87":1.4,"1.12":1.2,"1.37":1},
{"r":2,"p":5,"g":"S","i":25,"0.12":4.5,"0.37":4.4,"0.62":4.3,"0.87":4.2,"1.12":4.1,"1.37":4},
{"r":2,"p":5,"g":"S","i":26,"0.12":3.9,"0.37":3.9,"0.62":3.7,"0.87":3.5,"1.12":3.3,"1.37":3.1},
{"r":2,"p":5,"g":"A","i":1,"0.12":7,"0.37":6.2,"0.62":5.8,"0.87":5.5,"1.12":5.3,"1.37":5.2},
{"r":2,"p":5,"g":"A","i":2,"0.12":6.5,"0.37":6,"0.62":5.6,"0.87":5.2,"1.12":4.9,"1.37":4.6},
{"r":2,"p":5,"g":"A","i":3,"0.12":6.2,"0.37":5.7,"0.62":5.3,"0.87":4.9,"1.12":4.6,"1.37":4.3},
{"r":2,"p":5,"g":"A","i":4,"0.12":5.9,"0.37":5.4,"0.62":5,"0.87":4.6,"1.12":4.3,"1.37":4},
{"r":2,"p":5,"g":"A","i":5,"0.12":5.6,"0.37":5.1,"0.62":4.7,"0.87":4.3,"1.12":4,"1.37":3.7},
{"r":2,"p":5,"g":"A","i":6,"0.12":5.3,"0.37":4.8,"0.62":4.4,"0.87":4,"1.12":3.7,"1.37":3.4},
{"r":2,"p":5,"g":"A","i":7,"0.12":5,"0.37":4.6,"0.62":4.2,"0.87":3.8,"1.12":3.5,"1.37":3.2},
{"r":2,"p":5,"g":"A","i":8,"0.12":4.8,"0.37":4.4,"0.62":4,"0.87":3.6,"1.12":3.3,"1.37":3},
{"r":2,"p":5,"g":"A","i":9,"0.12":4.6,"0.37":4.2,"0.62":3.8,"0.87":3.4,"1.12":3.1,"1.37":2.8},
{"r":2,"p":5,"g":"A","i":10,"0.12":4.4,"0.37":4,"0.62":3.6,"0.87":3.2,"1.12":2.9,"1.37":2.6},
{"r":2,"p":5,"g":"A","i":11,"0.12":4.2,"0.37":3.8,"0.62":3.4,"0.87":3,"1.12":2.7,"1.37":2.4},
{"r":2,"p":5,"g":"A","i":12,"0.12":4,"0.37":3.6,"0.62":3.2,"0.87":2.8,"1.12":2.5,"1.37":2.2},
{"r":2,"p":5,"g":"A","i":13,"0.12":3.8,"0.37":3.4,"0.62":3,"0.87":2.6,"1.12":2.3,"1.37":2},
{"r":2,"p":5,"g":"A","i":14,"0.12":3.6,"0.37":3.2,"0.62":2.8,"0.87":2.4,"1.12":2.1,"1.37":1.8},
{"r":2,"p":5,"g":"A","i":15,"0.12":3.4,"0.37":3,"0.62":2.6,"0.87":2.2,"1.12":1.9,"1.37":1.6},
{"r":2,"p":5,"g":"A","i":16,"0.12":3.1,"0.37":2.8,"0.62":2.4,"0.87":2,"1.12":1.7,"1.37":1.3},
{"r":2,"p":5,"g":"A","i":17,"0.12":2.8,"0.37":2.5,"0.62":2.2,"0.87":1.8,"1.12":1.4,"1.37":1},
{"r":2,"p":5,"g":"A","i":18,"0.12":2.5,"0.37":2.3,"0.62":2,"0.87":1.6,"1.12":1.3,"1.37":1.1},
{"r":2,"p":5,"g":"A","i":19,"0.12":4.5,"0.37":4.4,"0.62":4.2,"0.87":4,"1.12":3.9,"1.37":3.8},
{"r":2,"p":5,"g":"A","i":20,"0.12":5.5,"0.37":5,"0.62":4.8,"0.87":4.7,"1.12":4.6,"1.37":4.5},
{"r":2,"p":5,"g":"A","i":21,"0.12":3.9,"0.37":3.8,"0.62":3.7,"0.87":3.6,"1.12":3.5,"1.37":3.5},
{"r":2,"p":5,"g":"A","i":22,"0.12":3.3,"0.37":3.2,"0.62":3,"0.87":2.9,"1.12":2.8,"1.37":2.6},
{"r":3,"p":1,"g":"S","i":1,"0.12":1.9,"0.37":1.82,"0.62":1.74,"0.87":1.66,"1.12":1.58,"1.37":1.52},
{"r":3,"p":1,"g":"S","i":2,"0.12":1.8,"0.37":1.74,"0.62":1.7,"0.87":1.66,"1.12":1.62,"1.37":1.6},
{"r":3,"p":1,"g":"S","i":3,"0.12":1.66,"0.37":1.62,"0.62":1.58,"0.87":1.56,"1.12":1.55,"1.37":1.54},
{"r":3,"p":1,"g":"S","i":4,"0.12":1.5,"0.37":1.5,"0.62":1.5,"0.87":1.5,"1.12":1.5,"1.37":1.5},
{"r":3,"p":1,"g":"S","i":5,"0.12":1.47,"0.37":1.46,"0.62":1.45,"0.87":1.45,"1.12":1.46,"1.37":1.47},
{"r":3,"p":1,"g":"S","i":6,"0.12":1.44,"0.37":1.43,"0.62":1.42,"0.87":1.42,"1.12":1.43,"1.37":1.44},
{"r":3,"p":1,"g":"S","i":7,"0.12":1.41,"0.37":1.4,"0.62":1.39,"0.87":1.39,"1.12":1.4,"1.37":1.41},
{"r":3,"p":1,"g":"S","i":8,"0.12":1.38,"0.37":1.37,"0.62":1.36,"0.87":1.36,"1.12":1.37,"1.37":1.38},
{"r":3,"p":1,"g":"S","i":9,"0.12":1.35,"0.37":1.34,"0.62":1.33,"0.87":1.33,"1.12":1.34,"1.37":1.35},
{"r":3,"p":1,"g":"S","i":10,"0.12":1.32,"0.37":1.31,"0.62":1.3,"0.87":1.3,"1.12":1.31,"1.37":1.32},
{"r":3,"p":1,"g":"S","i":11,"0.12":1.29,"0.37":1.28,"0.62":1.27,"0.87":1.27,"1.12":1.28,"1.37":1.29},
{"r":3,"p":1,"g":"S","i":12,"0.12":1.26,"0.37":1.25,"0.62":1.25,"0.87":1.25,"1.12":1.26,"1.37":1.27},
{"r":3,"p":1,"g":"S","i":13,"0.12":1.23,"0.37":1.23,"0.62":1.22,"0.87":1.22,"1.12":1.23,"1.37":1.24},
{"r":3,"p":1,"g":"S","i":14,"0.12":1.2,"0.37":1.2,"0.62":1.2,"0.87":1.2,"1.12":1.21,"1.37":1.22},
{"r":3,"p":1,"g":"S","i":15,"0.12":1.35,"0.37":1.3,"0.62":1.25,"0.87":1.2,"1.12":1.15,"1.37":1.1},
{"r":3,"p":1,"g":"S","i":16,"0.12":1.22,"0.37":1.3,"0.62":1.38,"0.87":1.46,"1.12":1.55,"1.37":1.62},
{"r":3,"p":1,"g":"S","i":17,"0.12":1.55,"0.37":1.52,"0.62":1.49,"0.87":1.47,"1.12":1.45,"1.37":1.43},
{"r":3,"p":1,"g":"S","i":18,"0.12":1.4,"0.37":1.44,"0.62":1.48,"0.87":1.52,"1.12":1.56,"1.37":1.58},
{"r":3,"p":1,"g":"S","i":19,"0.12":1.6,"0.37":1.55,"0.62":1.5,"0.87":1.45,"1.12":1.38,"1.37":1.32},
{"r":3,"p":1,"g":"S","i":20,"0.12":1.3,"0.37":1.32,"0.62":1.33,"0.87":1.35,"1.12":1.38,"1.37":1.4},
{"r":3,"p":1,"g":"A","i":1,"0.12":1.85,"0.37":1.92,"0.62":1.99,"0.87":2.06,"1.12":2.12,"1.37":2.18},
{"r":3,"p":1,"g":"A","i":2,"0.12":2.05,"0.37":1.98,"0.62":1.92,"0.87":1.93,"1.12":2.02,"1.37":2.1},
{"r":3,"p":1,"g":"A","i":3,"0.12":1.95,"0.37":1.9,"0.62":1.86,"0.87":1.84,"1.12":1.82,"1.37":1.8},
{"r":3,"p":1,"g":"A","i":4,"0.12":1.88,"0.37":1.85,"0.62":1.8,"0.87":1.78,"1.12":1.76,"1.37":1.75},
{"r":3,"p":1,"g":"A","i":5,"0.12":1.82,"0.37":1.78,"0.62":1.74,"0.87":1.72,"1.12":1.7,"1.37":1.68},
{"r":3,"p":1,"g":"A","i":6,"0.12":1.76,"0.37":1.73,"0.62":1.7,"0.87":1.68,"1.12":1.66,"1.37":1.64},
{"r":3,"p":1,"g":"A","i":7,"0.12":1.7,"0.37":1.66,"0.62":1.63,"0.87":1.62,"1.12":1.64,"1.37":1.66},
{"r":3,"p":1,"g":"A","i":8,"0.12":1.64,"0.37":1.62,"0.62":1.58,"0.87":1.55,"1.12":1.5,"1.37":1.45},
{"r":3,"p":1,"g":"A","i":9,"0.12":1.58,"0.37":1.52,"0.62":1.45,"0.87":1.38,"1.12":1.3,"1.37":1.22},
{"r":3,"p":1,"g":"A","i":10,"0.12":1.52,"0.37":1.48,"0.62":1.42,"0.87":1.35,"1.12":1.28,"1.37":1.2},
{"r":3,"p":1,"g":"A","i":11,"0.12":1.98,"0.37":1.94,"0.62":1.88,"0.87":1.82,"1.12":1.74,"1.37":1.7},
{"r":3,"p":1,"g":"A","i":12,"0.12":1.72,"0.37":1.75,"0.62":1.78,"0.87":1.76,"1.12":1.79,"1.37":1.85},
{"r":3,"p":2,"g":"S","i":1,"0.12":2.08,"0.37":2,"0.62":1.92,"0.87":1.86,"1.12":1.8,"1.37":1.76},
{"r":3,"p":2,"g":"S","i":2,"0.12":1.64,"0.37":1.58,"0.62":1.55,"0.87":1.52,"1.12":1.5,"1.37":1.48},
{"r":3,"p":2,"g":"S","i":3,"0.12":1.58,"0.37":1.54,"0.62":1.48,"0.87":1.45,"1.12":1.42,"1.37":1.4},
{"r":3,"p":2,"g":"S","i":4,"0.12":1.45,"0.37":1.42,"0.62":1.4,"0.87":1.41,"1.12":1.43,"1.37":1.45},
{"r":3,"p":2,"g":"S","i":5,"0.12":1.38,"0.37":1.36,"0.62":1.35,"0.87":1.36,"1.12":1.38,"1.37":1.4},
{"r":3,"p":2,"g":"S","i":6,"0.12":1.32,"0.37":1.3,"0.62":1.29,"0.87":1.3,"1.12":1.32,"1.37":1.34},
{"r":3,"p":2,"g":"S","i":7,"0.12":1.26,"0.37":1.25,"0.62":1.24,"0.87":1.25,"1.12":1.27,"1.37":1.29},
{"r":3,"p":2,"g":"S","i":8,"0.12":1.2,"0.37":1.19,"0.62":1.18,"0.87":1.2,"1.12":1.22,"1.37":1.24},
{"r":3,"p":2,"g":"S","i":9,"0.12":1.12,"0.37":1.14,"0.62":1.16,"0.87":1.18,"1.12":1.2,"1.37":1.22},
{"r":3,"p":2,"g":"S","i":10,"0.12":1.22,"0.37":1.2,"0.62":1.18,"0.87":1.17,"1.12":1.18,"1.37":1.19},
{"r":3,"p":2,"g":"A","i":1,"0.12":2.1,"0.37":2.08,"0.62":2.06,"0.87":2.05,"1.12":2.05,"1.37":2.04},
{"r":3,"p":2,"g":"A","i":2,"0.12":1.98,"0.37":2,"0.62":1.96,"0.87":2.21,"1.12":2.17,"1.37":1.87},
{"r":3,"p":2,"g":"A","i":3,"0.12":1.96,"0.37":1.95,"0.62":1.92,"0.87":1.9,"1.12":1.9,"1.37":1.94},
{"r":3,"p":2,"g":"A","i":4,"0.12":1.88,"0.37":1.85,"0.62":1.9,"0.87":1.83,"1.12":1.8,"1.37":1.78},
{"r":3,"p":2,"g":"A","i":5,"0.12":1.8,"0.37":1.76,"0.62":1.72,"0.87":1.7,"1.12":1.75,"1.37":1.8},
{"r":3,"p":2,"g":"A","i":6,"0.12":1.62,"0.37":1.55,"0.62":1.48,"0.87":1.42,"1.12":1.38,"1.37":1.36},
{"r":3,"p":2,"g":"A","i":7,"0.12":1.7,"0.37":1.6,"0.62":1.55,"0.87":1.5,"1.12":1.46,"1.37":1.44},
{"r":3,"p":3,"g":"S","i":1,"0.12":1.45,"0.37":1.42,"0.62":1.4,"0.87":1.42,"1.12":1.58,"1.37":2},
{"r":3,"p":3,"g":"S","i":2,"0.12":1.5,"0.37":1.47,"0.62":1.46,"0.87":1.45,"1.12":1.45,"1.37":1.46},
{"r":3,"p":3,"g":"S","i":3,"0.12":1.46,"0.37":1.44,"0.62":1.43,"0.87":1.43,"1.12":1.43,"1.37":1.44},
{"r":3,"p":3,"g":"S","i":4,"0.12":1.43,"0.37":1.41,"0.62":1.4,"0.87":1.4,"1.12":1.41,"1.37":1.42},
{"r":3,"p":3,"g":"S","i":5,"0.12":1.41,"0.37":1.39,"0.62":1.38,"0.87":1.38,"1.12":1.39,"1.37":1.4},
{"r":3,"p":3,"g":"S","i":6,"0.12":1.39,"0.37":1.37,"0.62":1.36,"0.87":1.36,"1.12":1.37,"1.37":1.38},
{"r":3,"p":3,"g":"S","i":7,"0.12":1.37,"0.37":1.35,"0.62":1.34,"0.87":1.34,"1.12":1.35,"1.37":1.36},
{"r":3,"p":3,"g":"S","i":8,"0.12":1.35,"0.37":1.33,"0.62":1.32,"0.87":1.32,"1.12":1.33,"1.37":1.34},
{"r":3,"p":3,"g":"S","i":9,"0.12":1.33,"0.37":1.31,"0.62":1.3,"0.87":1.3,"1.12":1.31,"1.37":1.32},
{"r":3,"p":3,"g":"S","i":10,"0.12":1.31,"0.37":1.29,"0.62":1.28,"0.87":1.28,"1.12":1.29,"1.37":1.3},
{"r":3,"p":3,"g":"S","i":11,"0.12":1.29,"0.37":1.27,"0.62":1.26,"0.87":1.26,"1.12":1.27,"1.37":1.28},
{"r":3,"p":3,"g":"S","i":12,"0.12":1.27,"0.37":1.25,"0.62":1.24,"0.87":1.24,"1.12":1.25,"1.37":1.26},
{"r":3,"p":3,"g":"S","i":13,"0.12":1.25,"0.37":1.23,"0.62":1.22,"0.87":1.22,"1.12":1.23,"1.37":1.24},
{"r":3,"p":3,"g":"S","i":14,"0.12":1.23,"0.37":1.21,"0.62":1.2,"0.87":1.2,"1.12":1.21,"1.37":1.22},
{"r":3,"p":3,"g":"S","i":15,"0.12":1.21,"0.37":1.19,"0.62":1.18,"0.87":1.18,"1.12":1.19,"1.37":1.2},
{"r":3,"p":3,"g":"S","i":16,"0.12":1.19,"0.37":1.17,"0.62":1.16,"0.87":1.16,"1.12":1.17,"1.37":1.18},
{"r":3,"p":3,"g":"S","i":17,"0.12":1.17,"0.37":1.15,"0.62":1.14,"0.87":1.14,"1.12":1.15,"1.37":1.16},
{"r":3,"p":3,"g":"S","i":18,"0.12":1.15,"0.37":1.14,"0.62":1.13,"0.87":1.13,"1.12":1.14,"1.37":1.15},
{"r":3,"p":3,"g":"S","i":19,"0.12":1.48,"0.37":1.44,"0.62":1.4,"0.87":1.36,"1.12":1.33,"1.37":1.3},
{"r":3,"p":3,"g":"S","i":20,"0.12":1.4,"0.37":1.38,"0.62":1.35,"0.87":1.33,"1.12":1.3,"1.37":1.28},
{"r":3,"p":3,"g":"S","i":21,"0.12":1.3,"0.37":1.28,"0.62":1.27,"0.87":1.26,"1.12":1.25,"1.37":1.25},
{"r":3,"p":3,"g":"S","i":22,"0.12":1.26,"0.37":1.27,"0.62":1.28,"0.87":1.3,"1.12":1.32,"1.37":1.34},
{"r":3,"p":3,"g":"S","i":23,"0.12":1.2,"0.37":1.22,"0.62":1.24,"0.87":1.26,"1.12":1.28,"1.37":1.3},
{"r":3,"p":3,"g":"S","i":24,"0.12":1.44,"0.37":1.42,"0.62":1.39,"0.87":1.37,"1.12":1.36,"1.37":1.34},
{"r":3,"p":3,"g":"A","i":1,"0.12":2.06,"0.37":2.05,"0.62":2,"0.87":1.95,"1.12":1.9,"1.37":1.87},
{"r":3,"p":3,"g":"A","i":2,"0.12":2.02,"0.37":1.96,"0.62":1.9,"0.87":1.82,"1.12":1.78,"1.37":1.8},
{"r":3,"p":3,"g":"A","i":3,"0.12":1.96,"0.37":1.9,"0.62":1.84,"0.87":1.78,"1.12":1.74,"1.37":1.72},
{"r":3,"p":3,"g":"A","i":4,"0.12":1.9,"0.37":1.84,"0.62":1.78,"0.87":1.72,"1.12":1.68,"1.37":1.66},
{"r":3,"p":3,"g":"A","i":5,"0.12":1.84,"0.37":1.78,"0.62":1.72,"0.87":1.65,"1.12":1.6,"1.37":1.58},
{"r":3,"p":3,"g":"A","i":6,"0.12":1.78,"0.37":1.72,"0.62":1.66,"0.87":1.6,"1.12":1.55,"1.37":1.52},
{"r":3,"p":3,"g":"A","i":7,"0.12":1.72,"0.37":1.66,"0.62":1.6,"0.87":1.52,"1.12":1.48,"1.37":1.45},
{"r":3,"p":3,"g":"A","i":8,"0.12":1.66,"0.37":1.6,"0.62":1.54,"0.87":1.46,"1.12":1.42,"1.37":1.38},
{"r":3,"p":3,"g":"A","i":9,"0.12":1.6,"0.37":1.55,"0.62":1.48,"0.87":1.42,"1.12":1.38,"1.37":1.35},
{"r":3,"p":3,"g":"A","i":10,"0.12":1.52,"0.37":1.48,"0.62":1.44,"0.87":1.48,"1.12":1.5,"1.37":1.52},
{"r":3,"p":4,"g":"S","i":1,"0.12":1.46,"0.37":1.5,"0.62":1.56,"0.87":1.64,"1.12":1.74,"1.37":1.87},
{"r":3,"p":4,"g":"S","i":2,"0.12":1.4,"0.37":1.44,"0.62":1.5,"0.87":1.58,"1.12":1.66,"1.37":1.77},
{"r":3,"p":4,"g":"S","i":3,"0.12":1.36,"0.37":1.38,"0.62":1.4,"0.87":1.43,"1.12":1.46,"1.37":1.48},
{"r":3,"p":4,"g":"S","i":4,"0.12":1.32,"0.37":1.33,"0.62":1.35,"0.87":1.37,"1.12":1.4,"1.37":1.42},
{"r":3,"p":4,"g":"S","i":5,"0.12":1.3,"0.37":1.3,"0.62":1.31,"0.87":1.32,"1.12":1.34,"1.37":1.36},
{"r":3,"p":4,"g":"S","i":6,"0.12":1.28,"0.37":1.28,"0.62":1.28,"0.87":1.29,"1.12":1.3,"1.37":1.32},
{"r":3,"p":4,"g":"S","i":7,"0.12":1.26,"0.37":1.26,"0.62":1.26,"0.87":1.26,"1.12":1.27,"1.37":1.29},
{"r":3,"p":4,"g":"S","i":8,"0.12":1.24,"0.37":1.24,"0.62":1.24,"0.87":1.24,"1.12":1.25,"1.37":1.27},
{"r":3,"p":4,"g":"S","i":9,"0.12":1.22,"0.37":1.22,"0.62":1.22,"0.87":1.22,"1.12":1.23,"1.37":1.25},
{"r":3,"p":4,"g":"S","i":10,"0.12":1.2,"0.37":1.2,"0.62":1.2,"0.87":1.2,"1.12":1.21,"1.37":1.23},
{"r":3,"p":4,"g":"S","i":11,"0.12":1.18,"0.37":1.18,"0.62":1.18,"0.87":1.19,"1.12":1.2,"1.37":1.21},
{"r":3,"p":4,"g":"S","i":12,"0.12":1.15,"0.37":1.16,"0.62":1.16,"0.87":1.17,"1.12":1.18,"1.37":1.2},
{"r":3,"p":4,"g":"S","i":13,"0.12":1.1,"0.37":1.12,"0.62":1.14,"0.87":1.16,"1.12":1.18,"1.37":1.2},
{"r":3,"p":4,"g":"S","i":14,"0.12":1.04,"0.37":1.06,"0.62":1.08,"0.87":1.1,"1.12":1.12,"1.37":1.14},
{"r":3,"p":4,"g":"A","i":1,"0.12":2.1,"0.37":2.12,"0.62":2.09,"0.87":2.08},
{"r":3,"p":4,"g":"A","i":2,"0.12":1.9,"0.37":1.84,"0.62":1.78,"0.87":1.72,"1.12":1.72,"1.37":1.71},
{"r":3,"p":4,"g":"A","i":3,"0.12":1.81,"0.37":1.76,"0.62":1.72,"0.87":1.66,"1.12":1.64,"1.37":1.62},
{"r":3,"p":4,"g":"A","i":4,"0.12":1.62,"0.37":1.6,"0.62":1.58,"0.87":1.56,"1.12":1.54,"1.37":1.52},
{"r":3,"p":4,"g":"A","i":5,"0.12":1.5,"0.37":1.48,"0.62":1.46,"0.87":1.46,"1.12":1.44,"1.37":1.42},
{"r":3,"p":4,"g":"A","i":6,"0.12":1.38,"0.37":1.37,"0.62":1.36,"0.87":1.38,"1.12":1.4,"1.37":1.44},
{"r":3,"p":5,"g":"S","i":1,"0.12":1.3,"0.37":1.4,"0.62":1.55,"0.87":1.75,"1.12":1.95,"1.37":2.13},
{"r":3,"p":5,"g":"S","i":2,"0.12":1.35,"0.37":1.42,"0.62":1.52,"0.87":1.65,"1.12":1.8,"1.37":1.96},
{"r":3,"p":5,"g":"S","i":3,"0.12":1.46,"0.37":1.45,"0.62":1.44,"0.87":1.44,"1.12":1.45,"1.37":1.46},
{"r":3,"p":5,"g":"S","i":4,"0.12":1.44,"0.37":1.43,"0.62":1.42,"0.87":1.42,"1.12":1.43,"1.37":1.44},
{"r":3,"p":5,"g":"S","i":5,"0.12":1.42,"0.37":1.41,"0.62":1.4,"0.87":1.4,"1.12":1.41,"1.37":1.42},
{"r":3,"p":5,"g":"S","i":6,"0.12":1.4,"0.37":1.39,"0.62":1.38,"0.87":1.38,"1.12":1.39,"1.37":1.4},
{"r":3,"p":5,"g":"S","i":7,"0.12":1.38,"0.37":1.37,"0.62":1.36,"0.87":1.36,"1.12":1.37,"1.37":1.38},
{"r":3,"p":5,"g":"S","i":8,"0.12":1.36,"0.37":1.35,"0.62":1.34,"0.87":1.34,"1.12":1.35,"1.37":1.36},
{"r":3,"p":5,"g":"S","i":9,"0.12":1.34,"0.37":1.33,"0.62":1.32,"0.87":1.32,"1.12":1.33,"1.37":1.34},
{"r":3,"p":5,"g":"S","i":10,"0.12":1.32,"0.37":1.31,"0.62":1.3,"0.87":1.3,"1.12":1.31,"1.37":1.32},
{"r":3,"p":5,"g":"S","i":11,"0.12":1.3,"0.37":1.29,"0.62":1.28,"0.87":1.28,"1.12":1.29,"1.37":1.3},
{"r":3,"p":5,"g":"S","i":12,"0.12":1.28,"0.37":1.27,"0.62":1.26,"0.87":1.26,"1.12":1.27,"1.37":1.28},
{"r":3,"p":5,"g":"S","i":13,"0.12":1.26,"0.37":1.25,"0.62":1.24,"0.87":1.24,"1.12":1.25,"1.37":1.26},
{"r":3,"p":5,"g":"S","i":14,"0.12":1.24,"0.37":1.23,"0.62":1.22,"0.87":1.22,"1.12":1.23,"1.37":1.24},
{"r":3,"p":5,"g":"S","i":15,"0.12":1.22,"0.37":1.21,"0.62":1.2,"0.87":1.2,"1.12":1.21,"1.37":1.22},
{"r":3,"p":5,"g":"S","i":16,"0.12":1.2,"0.37":1.19,"0.62":1.18,"0.87":1.18,"1.12":1.19,"1.37":1.2},
{"r":3,"p":5,"g":"S","i":17,"0.12":1.18,"0.37":1.17,"0.62":1.16,"0.87":1.16,"1.12":1.17,"1.37":1.18},
{"r":3,"p":5,"g":"S","i":18,"0.12":1.16,"0.37":1.15,"0.62":1.15,"0.87":1.15,"1.12":1.16,"1.37":1.17},
{"r":3,"p":5,"g":"S","i":19,"0.12":1.43,"0.37":1.38,"0.62":1.32,"0.87":1.26,"1.12":1.2,"1.37":1.14},
{"r":3,"p":5,"g":"S","i":20,"0.12":1.38,"0.37":1.33,"0.62":1.28,"0.87":1.22,"1.12":1.16,"1.37":1.1},
{"r":3,"p":5,"g":"S","i":21,"0.12":1.33,"0.37":1.36,"0.62":1.38,"0.87":1.4,"1.12":1.42,"1.37":1.45},
{"r":3,"p":5,"g":"S","i":22,"0.12":1.27,"0.37":1.3,"0.62":1.33,"0.87":1.36,"1.12":1.39,"1.37":1.42},
{"r":3,"p":5,"g":"S","i":23,"0.12":1.21,"0.37":1.24,"0.62":1.27,"0.87":1.3,"1.12":1.34,"1.37":1.38},
{"r":3,"p":5,"g":"S","i":24,"0.12":1.45,"0.37":1.42,"0.62":1.38,"0.87":1.34,"1.12":1.3,"1.37":1.27},
{"r":3,"p":5,"g":"S","i":25,"0.12":1.25,"0.37":1.24,"0.62":1.24,"0.87":1.25,"1.12":1.27,"1.37":1.3},
{"r":3,"p":5,"g":"S","i":26,"0.12":1.4,"0.37":1.38,"0.62":1.37,"0.87":1.35,"1.12":1.34,"1.37":1.33},
{"r":3,"p":5,"g":"A","i":1,"0.12":2.02,"0.37":1.98,"0.62":1.94,"0.87":1.92,"1.12":1.91,"1.37":1.9},
{"r":3,"p":5,"g":"A","i":2,"0.12":1.98,"0.37":1.94,"0.62":1.9,"0.87":1.87,"1.12":1.86,"1.37":1.86},
{"r":3,"p":5,"g":"A","i":3,"0.12":1.94,"0.37":1.9,"0.62":1.86,"0.87":1.83,"1.12":1.82,"1.37":1.82},
{"r":3,"p":5,"g":"A","i":4,"0.12":1.9,"0.37":1.86,"0.62":1.82,"0.87":1.79,"1.12":1.78,"1.37":1.78},
{"r":3,"p":5,"g":"A","i":5,"0.12":1.86,"0.37":1.82,"0.62":1.78,"0.87":1.75,"1.12":1.74,"1.37":1.74},
{"r":3,"p":5,"g":"A","i":6,"0.12":1.82,"0.37":1.78,"0.62":1.74,"0.87":1.71,"1.12":1.7,"1.37":1.7},
{"r":3,"p":5,"g":"A","i":7,"0.12":1.78,"0.37":1.74,"0.62":1.7,"0.87":1.67,"1.12":1.66,"1.37":1.66},
{"r":3,"p":5,"g":"A","i":8,"0.12":1.74,"0.37":1.7,"0.62":1.66,"0.87":1.63,"1.12":1.62,"1.37":1.62},
{"r":3,"p":5,"g":"A","i":9,"0.12":1.7,"0.37":1.66,"0.62":1.62,"0.87":1.59,"1.12":1.58,"1.37":1.58},
{"r":3,"p":5,"g":"A","i":10,"0.12":1.66,"0.37":1.62,"0.62":1.58,"0.87":1.55,"1.12":1.54,"1.37":1.54},
{"r":3,"p":5,"g":"A","i":11,"0.12":1.62,"0.37":1.58,"0.62":1.54,"0.87":1.51,"1.12":1.5,"1.37":1.5},
{"r":3,"p":5,"g":"A","i":12,"0.12":1.58,"0.37":1.54,"0.62":1.5,"0.87":1.47,"1.12":1.46,"1.37":1.46},
{"r":3,"p":5,"g":"A","i":13,"0.12":1.54,"0.37":1.5,"0.62":1.46,"0.87":1.43,"1.12":1.42,"1.37":1.42},
{"r":3,"p":5,"g":"A","i":14,"0.12":1.5,"0.37":1.46,"0.62":1.42,"0.87":1.39,"1.12":1.38,"1.37":1.38},
{"r":3,"p":5,"g":"A","i":15,"0.12":1.46,"0.37":1.42,"0.62":1.38,"0.87":1.35,"1.12":1.34,"1.37":1.34},
{"r":3,"p":5,"g":"A","i":16,"0.12":1.4,"0.37":1.37,"0.62":1.34,"0.87":1.31,"1.12":1.3,"1.37":1.3},
{"r":3,"p":5,"g":"A","i":17,"0.12":1.34,"0.37":1.31,"0.62":1.28,"0.87":1.26,"1.12":1.24,"1.37":1.22},
{"r":3,"p":5,"g":"A","i":18,"0.12":1.26,"0.37":1.24,"0.62":1.22,"0.87":1.18,"1.12":1.12,"1.37":1.05},
{"r":3,"p":5,"g":"A","i":19,"0.12":1.21,"0.37":1.2,"0.62":1.18,"0.87":1.14,"1.12":1.1,"1.37":1.02},
{"r":3,"p":5,"g":"A","i":20,"0.12":1.6,"0.37":1.62,"0.62":1.63,"0.87":1.65,"1.12":1.68,"1.37":1.72},
{"r":3,"p":5,"g":"A","i":21,"0.12":1.75,"0.37":1.7,"0.62":1.72,"0.87":1.78,"1.12":1.84,"1.37":1.9},
{"r":3,"p":5,"g":"A","i":22,"0.12":1.52,"0.37":1.48,"0.62":1.4,"0.87":1.3,"1.12":1.22,"1.37":1.15},
{"m":1,"r":1,"p":1,"g":"AGN","x":0.1,"y":-11.22,"lo":-11.6,"hi":-10.84},
{"m":1,"r":1,"p":1,"g":"AGN","x":0.35,"y":-11.2,"lo":-11.65,"hi":-10.75},
{"m":1,"r":1,"p":1,"g":"AGN","x":0.6,"y":-11.06,"lo":-11.59,"hi":-10.53},
{"m":1,"r":1,"p":1,"g":"AGN","x":0.85,"y":-10.98,"lo":-11.6,"hi":-10.36},
{"m":1,"r":1,"p":1,"g":"AGN","x":1.1,"y":-10.9,"lo":-11.47,"hi":-10.33},
{"m":1,"r":1,"p":1,"g":"AGN","x":1.35,"y":-10.9,"lo":-11.45,"hi":-10.35},
{"m":1,"r":1,"p":1,"g":"SFG","x":0.14,"y":-10.7,"lo":-11.09,"hi":-10.31},
{"m":1,"r":1,"p":1,"g":"SFG","x":0.39,"y":-10.7,"lo":-11.09,"hi":-10.31},
{"m":1,"r":1,"p":1,"g":"SFG","x":0.64,"y":-10.59,"lo":-10.97,"hi":-10.21},
{"m":1,"r":1,"p":1,"g":"SFG","x":0.89,"y":-10.55,"lo":-10.91,"hi":-10.19},
{"m":1,"r":1,"p":1,"g":"SFG","x":1.14,"y":-10.55,"lo":-10.95,"hi":-10.15},
{"m":1,"r":1,"p":1,"g":"SFG","x":1.39,"y":-10.55,"lo":-10.93,"hi":-10.17},
{"m":1,"r":1,"p":2,"g":"AGN","x":0.1,"y":-11.15,"lo":-11.62,"hi":-10.68},
{"m":1,"r":1,"p":2,"g":"AGN","x":0.35,"y":-11.2,"lo":-11.65,"hi":-10.75},
{"m":1,"r":1,"p":2,"g":"AGN","x":0.6,"y":-10.71,"lo":-11.09,"hi":-10.33},
{"m":1,"r":1,"p":2,"g":"AGN","x":0.85,"y":-10.55,"lo":-10.95,"hi":-10.15},
{"m":1,"r":1,"p":2,"g":"AGN","x":1.1,"y":-10.49,"lo":-10.94,"hi":-10.04},
{"m":1,"r":1,"p":2,"g":"AGN","x":1.35,"y":-10.44,"lo":-10.94,"hi":-9.94},
{"m":1,"r":1,"p":2,"g":"SFG","x":0.14,"y":-10.39,"lo":-10.73,"hi":-10.05},
{"m":1,"r":1,"p":2,"g":"SFG","x":0.39,"y":-10.24,"lo":-10.66,"hi":-9.82},
{"m":1,"r":1,"p":2,"g":"SFG","x":0.64,"y":-10.32,"lo":-10.66,"hi":-9.98},
{"m":1,"r":1,"p":2,"g":"SFG","x":0.89,"y":-10.28,"lo":-10.58,"hi":-9.98},
{"m":1,"r":1,"p":2,"g":"SFG","x":1.14,"y":-10.24,"lo":-10.55,"hi":-9.93},
{"m":1,"r":1,"p":2,"g":"SFG","x":1.39,"y":-10.26,"lo":-10.55,"hi":-9.97},
{"m":1,"r":1,"p":3,"g":"AGN","x":0.1,"y":-11.27,"lo":-11.57,"hi":-10.97},
{"m":1,"r":1,"p":3,"g":"AGN","x":0.35,"y":-11.23,"lo":-11.6,"hi":-10.86},
{"m":1,"r":1,"p":3,"g":"AGN","x":0.6,"y":-11.06,"lo":-11.48,"hi":-10.64},
{"m":1,"r":1,"p":3,"g":"AGN","x":0.85,"y":-10.97,"lo":-11.44,"hi":-10.5},
{"m":1,"r":1,"p":3,"g":"AGN","x":1.1,"y":-10.79,"lo":-11.24,"hi":-10.34},
{"m":1,"r":1,"p":3,"g":"AGN","x":1.35,"y":-10.62,"lo":-11.17,"hi":-10.07},
{"m":1,"r":1,"p":3,"g":"SFG","x":0.14,"y":-10.36,"lo":-10.72,"hi":-10},
{"m":1,"r":1,"p":3,"g":"SFG","x":0.39,"y":-10.36,"lo":-10.68,"hi":-10.04},
{"m":1,"r":1,"p":3,"g":"SFG","x":0.64,"y":-10.33,"lo":-10.63,"hi":-10.03},
{"m":1,"r":1,"p":3,"g":"SFG","x":0.89,"y":-10.32,"lo":-10.62,"hi":-10.02},
{"m":1,"r":1,"p":3,"g":"SFG","x":1.14,"y":-10.3,"lo":-10.6,"hi":-10},
{"m":1,"r":1,"p":3,"g":"SFG","x":1.39,"y":-10.28,"lo":-10.58,"hi":-9.98},
{"m":1,"r":1,"p":4,"g":"AGN","x":0.1,"y":-11.27,"lo":-11.72,"hi":-10.82},
{"m":1,"r":1,"p":4,"g":"AGN","x":0.35,"y":-11,"lo":-11.34,"hi":-10.66},
{"m":1,"r":1,"p":4,"g":"AGN","x":0.6,"y":-10.97,"lo":-11.31,"hi":-10.63},
{"m":1,"r":1,"p":4,"g":"AGN","x":0.85,"y":-10.92,"lo":-11.26,"hi":-10.58},
{"m":1,"r":1,"p":4,"g":"AGN","x":1.1,"y":-10.82,"lo":-10.97,"hi":-10.67},
{"m":1,"r":1,"p":4,"g":"AGN","x":1.35,"y":-10.71,"lo":-10.91,"hi":-10.51},
{"m":1,"r":1,"p":4,"g":"SFG","x":0.14,"y":-10.29,"lo":-10.68,"hi":-9.9},
{"m":1,"r":1,"p":4,"g":"SFG","x":0.39,"y":-10.26,"lo":-10.65,"hi":-9.87},
{"m":1,"r":1,"p":4,"g":"SFG","x":0.64,"y":-10.25,"lo":-10.6,"hi":-9.9},
{"m":1,"r":1,"p":4,"g":"SFG","x":0.89,"y":-10.24,"lo":-10.64,"hi":-9.84},
{"m":1,"r":1,"p":4,"g":"SFG","x":1.14,"y":-10.25,"lo":-10.69,"hi":-9.81},
{"m":1,"r":1,"p":4,"g":"SFG","x":1.39,"y":-10.24,"lo":-10.66,"hi":-9.82},
{"m":1,"r":1,"p":5,"g":"AGN","x":0.1,"y":-11.24,"lo":-11.63,"hi":-10.85},
{"m":1,"r":1,"p":5,"g":"AGN","x":0.35,"y":-11.23,"lo":-11.56,"hi":-10.9},
{"m":1,"r":1,"p":5,"g":"AGN","x":0.6,"y":-11.17,"lo":-11.5,"hi":-10.84},
{"m":1,"r":1,"p":5,"g":"AGN","x":0.85,"y":-11,"lo":-11.45,"hi":-10.55},
{"m":1,"r":1,"p":5,"g":"AGN","x":1.1,"y":-10.82,"lo":-11.24,"hi":-10.4},
{"m":1,"r":1,"p":5,"g":"AGN","x":1.35,"y":-10.7,"lo":-11.12,"hi":-10.28},
{"m":1,"r":1,"p":5,"g":"SFG","x":0.14,"y":-10.64,"lo":-10.94,"hi":-10.34},
{"m":1,"r":1,"p":5,"g":"SFG","x":0.39,"y":-10.59,"lo":-10.89,"hi":-10.29},
{"m":1,"r":1,"p":5,"g":"SFG","x":0.64,"y":-10.48,"lo":-10.75,"hi":-10.21},
{"m":1,"r":1,"p":5,"g":"SFG","x":0.89,"y":-10.41,"lo":-10.68,"hi":-10.14},
{"m":1,"r":1,"p":5,"g":"SFG","x":1.14,"y":-10.36,"lo":-10.63,"hi":-10.09},
{"m":1,"r":1,"p":5,"g":"SFG","x":1.39,"y":-10.33,"lo":-10.6,"hi":-10.06},
{"m":1,"r":2,"p":1,"g":"AGN","x":0.1,"y":3.66,"lo":2.56,"hi":4.76},
{"m":1,"r":2,"p":1,"g":"AGN","x":0.35,"y":3.6,"lo":2.45,"hi":4.75},
{"m":1,"r":2,"p":1,"g":"AGN","x":0.6,"y":3.52,"lo":2.27,"hi":4.77},
{"m":1,"r":2,"p":1,"g":"AGN","x":0.85,"y":3.12,"lo":1.92,"hi":4.32},
{"m":1,"r":2,"p":1,"g":"AGN","x":1.1,"y":2.38,"lo":1.28,"hi":3.48},
{"m":1,"r":2,"p":1,"g":"AGN","x":1.35,"y":2.52,"lo":1.42,"hi":3.62},
{"m":1,"r":2,"p":1,"g":"SFG","x":0.14,"y":4.07,"lo":3.27,"hi":4.87},
{"m":1,"r":2,"p":1,"g":"SFG","x":0.39,"y":3.93,"lo":3.13,"hi":4.73},
{"m":1,"r":2,"p":1,"g":"SFG","x":0.64,"y":3.85,"lo":3.1,"hi":4.6},
{"m":1,"r":2,"p":1,"g":"SFG","x":0.89,"y":3.66,"lo":2.86,"hi":4.46},
{"m":1,"r":2,"p":1,"g":"SFG","x":1.14,"y":3.58,"lo":2.68,"hi":4.48},
{"m":1,"r":2,"p":1,"g":"SFG","x":1.39,"y":3.03,"lo":2.03,"hi":4.03},
{"m":1,"r":2,"p":2,"g":"AGN","x":0.1,"y":4.01,"lo":2.81,"hi":5.21},
{"m":1,"r":2,"p":2,"g":"AGN","x":0.35,"y":3.93,"lo":2.73,"hi":5.13},
{"m":1,"r":2,"p":2,"g":"AGN","x":0.6,"y":3.66,"lo":2.66,"hi":4.66},
{"m":1,"r":2,"p":2,"g":"AGN","x":0.85,"y":3.3,"lo":2.35,"hi":4.25},
{"m":1,"r":2,"p":2,"g":"AGN","x":1.1,"y":3.2,"lo":2.25,"hi":4.15},
{"m":1,"r":2,"p":2,"g":"AGN","x":1.35,"y":2.79,"lo":2.04,"hi":3.54},
{"m":1,"r":2,"p":2,"g":"SFG","x":0.14,"y":4.01,"lo":2.66,"hi":5.36},
{"m":1,"r":2,"p":2,"g":"SFG","x":0.39,"y":4.01,"lo":2.71,"hi":5.31},
{"m":1,"r":2,"p":2,"g":"SFG","x":0.64,"y":3.74,"lo":2.74,"hi":4.74},
{"m":1,"r":2,"p":2,"g":"SFG","x":0.89,"y":3.85,"lo":2.65,"hi":5.05},
{"m":1,"r":2,"p":2,"g":"SFG","x":1.14,"y":3.3,"lo":2.2,"hi":4.4},
{"m":1,"r":2,"p":2,"g":"SFG","x":1.39,"y":2.79,"lo":1.69,"hi":3.89},
{"m":1,"r":2,"p":3,"g":"AGN","x":0.1,"y":4.82,"lo":3.94,"hi":5.7},
{"m":1,"r":2,"p":3,"g":"AGN","x":0.35,"y":4.15,"lo":3.15,"hi":5.15},
{"m":1,"r":2,"p":3,"g":"AGN","x":0.6,"y":3.66,"lo":2.51,"hi":4.81},
{"m":1,"r":2,"p":3,"g":"AGN","x":0.85,"y":3.47,"lo":2.42,"hi":4.52},
{"m":1,"r":2,"p":3,"g":"AGN","x":1.1,"y":3.06,"lo":1.96,"hi":4.16},
{"m":1,"r":2,"p":3,"g":"AGN","x":1.35,"y":2.63,"lo":1.58,"hi":3.68},
{"m":1,"r":2,"p":3,"g":"SFG","x":0.14,"y":3.87,"lo":3.12,"hi":4.62},
{"m":1,"r":2,"p":3,"g":"SFG","x":0.39,"y":3.8,"lo":3.05,"hi":4.55},
{"m":1,"r":2,"p":3,"g":"SFG","x":0.64,"y":3.66,"lo":2.91,"hi":4.41},
{"m":1,"r":2,"p":3,"g":"SFG","x":0.89,"y":3.47,"lo":2.72,"hi":4.22},
{"m":1,"r":2,"p":3,"g":"SFG","x":1.14,"y":3.39,"lo":2.64,"hi":4.14},
{"m":1,"r":2,"p":3,"g":"SFG","x":1.39,"y":3.17,"lo":2.42,"hi":3.92},
{"m":1,"r":2,"p":4,"g":"AGN","x":0.1,"y":4.74,"lo":3.24,"hi":6.24},
{"m":1,"r":2,"p":4,"g":"AGN","x":0.35,"y":5.2,"lo":3.9,"hi":6.5},
{"m":1,"r":2,"p":4,"g":"AGN","x":0.6,"y":4.07,"lo":2.87,"hi":5.27},
{"m":1,"r":2,"p":4,"g":"AGN","x":0.85,"y":2.93,"lo":1.83,"hi":4.03},
{"m":1,"r":2,"p":4,"g":"AGN","x":1.1,"y":2.38,"lo":1.38,"hi":3.38},
{"m":1,"r":2,"p":4,"g":"AGN","x":1.35,"y":1.84,"lo":0.94,"hi":2.74},
{"m":1,"r":2,"p":4,"g":"SFG","x":0.14,"y":3.6,"lo":2.93,"hi":4.27},
{"m":1,"r":2,"p":4,"g":"SFG","x":0.39,"y":3.6,"lo":2.96,"hi":4.24},
{"m":1,"r":2,"p":4,"g":"SFG","x":0.64,"y":3.52,"lo":2.84,"hi":4.2},
{"m":1,"r":2,"p":4,"g":"SFG","x":0.89,"y":3.47,"lo":2.79,"hi":4.15},
{"m":1,"r":2,"p":4,"g":"SFG","x":1.14,"y":3.39,"lo":2.64,"hi":4.14},
{"m":1,"r":2,"p":4,"g":"SFG","x":1.39,"y":2.98,"lo":2.1,"hi":3.86},
{"m":1,"r":2,"p":5,"g":"AGN","x":0.1,"y":4.28,"lo":3.4,"hi":5.16},
{"m":1,"r":2,"p":5,"g":"AGN","x":0.35,"y":4.12,"lo":3.37,"hi":4.87},
{"m":1,"r":2,"p":5,"g":"AGN","x":0.6,"y":3.93,"lo":3.05,"hi":4.81},
{"m":1,"r":2,"p":5,"g":"AGN","x":0.85,"y":3.74,"lo":2.94,"hi":4.54},
{"m":1,"r":2,"p":5,"g":"AGN","x":1.1,"y":3.52,"lo":2.64,"hi":4.4},
{"m":1,"r":2,"p":5,"g":"AGN","x":1.35,"y":3.06,"lo":2.16,"hi":3.96},
{"m":1,"r":2,"p":5,"g":"SFG","x":0.14,"y":3.71,"lo":3.01,"hi":4.41},
{"m":1,"r":2,"p":5,"g":"SFG","x":0.39,"y":3.66,"lo":2.96,"hi":4.36},
{"m":1,"r":2,"p":5,"g":"SFG","x":0.64,"y":3.58,"lo":2.88,"hi":4.28},
{"m":1,"r":2,"p":5,"g":"SFG","x":0.89,"y":3.44,"lo":2.74,"hi":4.14},
{"m":1,"r":2,"p":5,"g":"SFG","x":1.14,"y":3.3,"lo":2.6,"hi":4},
{"m":1,"r":2,"p":5,"g":"SFG","x":1.39,"y":3.06,"lo":2.36,"hi":3.76},
{"m":1,"r":3,"p":1,"g":"AGN","x":0.1,"y":1.75,"lo":1.615,"hi":1.885},
{"m":1,"r":3,"p":1,"g":"AGN","x":0.35,"y":1.72,"lo":1.55,"hi":1.89},
{"m":1,"r":3,"p":1,"g":"AGN","x":0.6,"y":1.7,"lo":1.5,"hi":1.9},
{"m":1,"r":3,"p":1,"g":"AGN","x":0.85,"y":1.7,"lo":1.42,"hi":1.98},
{"m":1,"r":3,"p":1,"g":"AGN","x":1.1,"y":1.7,"lo":1.44,"hi":1.96},
{"m":1,"r":3,"p":1,"g":"AGN","x":1.35,"y":1.67,"lo":1.43,"hi":1.91},
{"m":1,"r":3,"p":1,"g":"SFG","x":0.14,"y":1.385,"lo":1.255,"hi":1.515},
{"m":1,"r":3,"p":1,"g":"SFG","x":0.39,"y":1.365,"lo":1.225,"hi":1.505},
{"m":1,"r":3,"p":1,"g":"SFG","x":0.64,"y":1.36,"lo":1.215,"hi":1.505},
{"m":1,"r":3,"p":1,"g":"SFG","x":0.89,"y":1.35,"lo":1.205,"hi":1.495},
{"m":1,"r":3,"p":1,"g":"SFG","x":1.14,"y":1.38,"lo":1.22,"hi":1.54},
{"m":1,"r":3,"p":1,"g":"SFG","x":1.39,"y":1.39,"lo":1.23,"hi":1.55},
{"m":1,"r":3,"p":2,"g":"AGN","x":0.1,"y":1.83,"lo":1.52,"hi":2.14},
{"m":1,"r":3,"p":2,"g":"AGN","x":0.35,"y":1.69,"lo":1.42,"hi":1.96},
{"m":1,"r":3,"p":2,"g":"AGN","x":0.6,"y":1.6,"lo":1.34,"hi":1.86},
{"m":1,"r":3,"p":2,"g":"AGN","x":0.85,"y":1.58,"lo":1.305,"hi":1.855},
{"m":1,"r":3,"p":2,"g":"AGN","x":1.1,"y":1.54,"lo":1.27,"hi":1.81},
{"m":1,"r":3,"p":2,"g":"AGN","x":1.35,"y":1.55,"lo":1.35,"hi":1.75},
{"m":1,"r":3,"p":2,"g":"SFG","x":0.14,"y":1.3,"lo":1.08,"hi":1.52},
{"m":1,"r":3,"p":2,"g":"SFG","x":0.39,"y":1.3,"lo":1.11,"hi":1.49},
{"m":1,"r":3,"p":2,"g":"SFG","x":0.64,"y":1.29,"lo":1.135,"hi":1.445},
{"m":1,"r":3,"p":2,"g":"SFG","x":0.89,"y":1.315,"lo":1.155,"hi":1.475},
{"m":1,"r":3,"p":2,"g":"SFG","x":1.14,"y":1.33,"lo":1.2,"hi":1.46},
{"m":1,"r":3,"p":2,"g":"SFG","x":1.39,"y":1.315,"lo":1.155,"hi":1.475},
{"m":1,"r":3,"p":3,"g":"AGN","x":0.1,"y":1.67,"lo":1.49,"hi":1.85},
{"m":1,"r":3,"p":3,"g":"AGN","x":0.35,"y":1.635,"lo":1.445,"hi":1.825},
{"m":1,"r":3,"p":3,"g":"AGN","x":0.6,"y":1.58,"lo":1.41,"hi":1.75},
{"m":1,"r":3,"p":3,"g":"AGN","x":0.85,"y":1.53,"lo":1.38,"hi":1.68},
{"m":1,"r":3,"p":3,"g":"AGN","x":1.1,"y":1.51,"lo":1.37,"hi":1.65},
{"m":1,"r":3,"p":3,"g":"AGN","x":1.35,"y":1.49,"lo":1.345,"hi":1.635},
{"m":1,"r":3,"p":3,"g":"SFG","x":0.14,"y":1.28,"lo":1.175,"hi":1.385},
{"m":1,"r":3,"p":3,"g":"SFG","x":0.39,"y":1.28,"lo":1.175,"hi":1.385},
{"m":1,"r":3,"p":3,"g":"SFG","x":0.64,"y":1.29,"lo":1.185,"hi":1.395},
{"m":1,"r":3,"p":3,"g":"SFG","x":0.89,"y":1.28,"lo":1.175,"hi":1.385},
{"m":1,"r":3,"p":3,"g":"SFG","x":1.14,"y":1.295,"lo":1.19,"hi":1.4},
{"m":1,"r":3,"p":3,"g":"SFG","x":1.39,"y":1.3,"lo":1.195,"hi":1.405},
{"m":1,"r":3,"p":4,"g":"AGN","x":0.1,"y":1.577,"lo":1.342,"hi":1.812},
{"m":1,"r":3,"p":4,"g":"AGN","x":0.35,"y":1.566,"lo":1.341,"hi":1.791},
{"m":1,"r":3,"p":4,"g":"AGN","x":0.6,"y":1.56,"lo":1.36,"hi":1.76},
{"m":1,"r":3,"p":4,"g":"AGN","x":0.85,"y":1.577,"lo":1.377,"hi":1.777},
{"m":1,"r":3,"p":4,"g":"AGN","x":1.1,"y":1.55,"lo":1.435,"hi":1.665},
{"m":1,"r":3,"p":4,"g":"AGN","x":1.35,"y":1.54,"lo":1.425,"hi":1.655},
{"m":1,"r":3,"p":4,"g":"SFG","x":0.14,"y":1.26,"lo":1.177,"hi":1.343},
{"m":1,"r":3,"p":4,"g":"SFG","x":0.39,"y":1.257,"lo":1.167,"hi":1.347},
{"m":1,"r":3,"p":4,"g":"SFG","x":0.64,"y":1.25,"lo":1.16,"hi":1.34},
{"m":1,"r":3,"p":4,"g":"SFG","x":0.89,"y":1.25,"lo":1.15,"hi":1.35},
{"m":1,"r":3,"p":4,"g":"SFG","x":1.14,"y":1.257,"lo":1.152,"hi":1.362},
{"m":1,"r":3,"p":4,"g":"SFG","x":1.39,"y":1.27,"lo":1.14,"hi":1.4},
{"m":1,"r":3,"p":5,"g":"AGN","x":0.1,"y":1.68,"lo":1.5,"hi":1.86},
{"m":1,"r":3,"p":5,"g":"AGN","x":0.35,"y":1.62,"lo":1.465,"hi":1.775},
{"m":1,"r":3,"p":5,"g":"AGN","x":0.6,"y":1.56,"lo":1.39,"hi":1.73},
{"m":1,"r":3,"p":5,"g":"AGN","x":0.85,"y":1.53,"lo":1.365,"hi":1.695},
{"m":1,"r":3,"p":5,"g":"AGN","x":1.1,"y":1.53,"lo":1.365,"hi":1.695},
{"m":1,"r":3,"p":5,"g":"AGN","x":1.35,"y":1.52,"lo":1.355,"hi":1.685},
{"m":1,"r":3,"p":5,"g":"SFG","x":0.14,"y":1.34,"lo":1.225,"hi":1.455},
{"m":1,"r":3,"p":5,"g":"SFG","x":0.39,"y":1.33,"lo":1.23,"hi":1.43},
{"m":1,"r":3,"p":5,"g":"SFG","x":0.64,"y":1.31,"lo":1.22,"hi":1.4},
{"m":1,"r":3,"p":5,"g":"SFG","x":0.89,"y":1.295,"lo":1.208,"hi":1.382},
{"m":1,"r":3,"p":5,"g":"SFG","x":1.14,"y":1.3,"lo":1.204,"hi":1.396},
{"m":1,"r":3,"p":5,"g":"SFG","x":1.39,"y":1.31,"lo":1.204,"hi":1.416}
]},
"data":{"name":"D"},
"spacing":0,
"resolve":{"scale":{"color":"independent","stroke":"independent"},"legend":{"color":"independent","stroke":"independent"}},
"vconcat":[
{"transform":[{"filter":"datum.r==1"}],
 "facet":{"column":{"field":"p","type":"ordinal","title":null,"header":{"labelExpr":"['','Case 1','Case 2','Case 3','Case 4','Isolated'][datum.value]","labelFontSize":10,"labelPadding":2,"labelColor":"#000"}}},
 "spacing":0,
 "spec":{"width":154,"height":112,
  "encoding":{
   "x":{"field":"x","type":"quantitative","scale":{"domain":[-0.01,1.495],"nice":false,"zero":false},"axis":null},
   "y":{"field":"y","type":"quantitative","scale":{"domain":[-13.55,-8.45],"nice":false,"zero":false},"title":"log(sSFR) [yr⁻¹]","axis":{"values":[-13,-12,-11,-10,-9]}}},
  "layer":[
   {"transform":[{"filter":"!datum.m && datum.p<5"},{"fold":["0\\.12","0\\.37","0\\.62","0\\.87","1\\.12","1\\.37"],"as":["k","y"]}],
    "mark":{"type":"line","strokeWidth":0.9,"opacity":0.6,"clip":true},
    "encoding":{"x":{"field":"k","type":"quantitative","scale":{"domain":[-0.01,1.495],"nice":false,"zero":false},"axis":null},"stroke":{"field":"g","type":"nominal","scale":{"domain":["S","A"],"range":["#1f77b4","#e3292b"]},"legend":null},"detail":{"field":"i","type":"nominal"}}},
   {"transform":[{"filter":"!datum.m && datum.p==5"},{"fold":["0\\.12","0\\.37","0\\.62","0\\.87","1\\.12","1\\.37"],"as":["k","y"]}],
    "mark":{"type":"line","strokeWidth":1.5,"opacity":0.55,"clip":true},
    "encoding":{"x":{"field":"k","type":"quantitative","scale":{"domain":[-0.01,1.495],"nice":false,"zero":false},"axis":null},"stroke":{"field":"g","type":"nominal","scale":{"domain":["S","A"],"range":["#1f77b4","#e3292b"]},"legend":null},"detail":{"field":"i","type":"nominal"}}},
   {"transform":[{"filter":"datum.m==1"}],
    "mark":{"type":"line","strokeWidth":2},
    "encoding":{"color":{"field":"g","type":"nominal","scale":{"domain":["AGN","SFG"],"range":["#ff0000","#0000ff"]},"legend":{"title":null,"orient":"none","legendX":10,"legendY":12,"symbolType":"M-2,0H2M0,-1V1","symbolSize":100,"symbolStrokeWidth":1.6,"labelFontSize":9.5,"labelOffset":10,"rowPadding":-6,"padding":0}}}},
   {"transform":[{"filter":"datum.m==1"}],
    "mark":{"type":"rule","strokeWidth":2},
    "encoding":{"y":{"field":"lo","type":"quantitative","scale":{"domain":[-13.55,-8.45],"nice":false,"zero":false},"title":"log(sSFR) [yr⁻¹]","axis":{"values":[-13,-12,-11,-10,-9]}},"y2":{"field":"hi"},"color":{"field":"g","type":"nominal","scale":{"domain":["AGN","SFG"],"range":["#ff0000","#0000ff"]},"legend":null}}},
   {"transform":[{"filter":"datum.m==1"}],
    "mark":{"type":"circle","size":45,"opacity":1},
    "encoding":{"color":{"field":"g","type":"nominal","scale":{"domain":["AGN","SFG"],"range":["#ff0000","#0000ff"]},"legend":null}}}
  ]}},
{"transform":[{"filter":"datum.r==2"}],
 "facet":{"column":{"field":"p","type":"ordinal","title":null,"header":{"labels":false}}},
 "spacing":0,
 "spec":{"width":154,"height":111,
  "encoding":{
   "x":{"field":"x","type":"quantitative","scale":{"domain":[-0.01,1.495],"nice":false,"zero":false},"axis":null},
   "y":{"field":"y","type":"quantitative","scale":{"domain":[-0.2,8.8],"nice":false,"zero":false},"title":["","Hα/Hβ"],"axis":{"values":[0,2,4,6,8],"titlePadding":-8,"titleLineHeight":15}}},
  "layer":[
   {"transform":[{"filter":"!datum.m && datum.p<5"},{"fold":["0\\.12","0\\.37","0\\.62","0\\.87","1\\.12","1\\.37"],"as":["k","y"]}],
    "mark":{"type":"line","strokeWidth":0.9,"opacity":0.6,"clip":true},
    "encoding":{"x":{"field":"k","type":"quantitative","scale":{"domain":[-0.01,1.495],"nice":false,"zero":false},"axis":null},"stroke":{"field":"g","type":"nominal","scale":{"domain":["S","A"],"range":["#1f77b4","#e3292b"]},"legend":null},"detail":{"field":"i","type":"nominal"}}},
   {"transform":[{"filter":"!datum.m && datum.p==5"},{"fold":["0\\.12","0\\.37","0\\.62","0\\.87","1\\.12","1\\.37"],"as":["k","y"]}],
    "mark":{"type":"line","strokeWidth":1.5,"opacity":0.55,"clip":true},
    "encoding":{"x":{"field":"k","type":"quantitative","scale":{"domain":[-0.01,1.495],"nice":false,"zero":false},"axis":null},"stroke":{"field":"g","type":"nominal","scale":{"domain":["S","A"],"range":["#1f77b4","#e3292b"]},"legend":null},"detail":{"field":"i","type":"nominal"}}},
   {"transform":[{"filter":"datum.m==1"}],
    "mark":{"type":"line","strokeWidth":2},
    "encoding":{"color":{"field":"g","type":"nominal","scale":{"domain":["AGN","SFG"],"range":["#ff0000","#0000ff"]},"legend":null}}},
   {"transform":[{"filter":"datum.m==1"}],
    "mark":{"type":"rule","strokeWidth":2},
    "encoding":{"y":{"field":"lo","type":"quantitative","scale":{"domain":[-0.2,8.8],"nice":false,"zero":false},"title":["","Hα/Hβ"],"axis":{"values":[0,2,4,6,8],"titlePadding":-8,"titleLineHeight":15}},"y2":{"field":"hi"},"color":{"field":"g","type":"nominal","scale":{"domain":["AGN","SFG"],"range":["#ff0000","#0000ff"]},"legend":null}}},
   {"transform":[{"filter":"datum.m==1"}],
    "mark":{"type":"circle","size":45,"opacity":1},
    "encoding":{"color":{"field":"g","type":"nominal","scale":{"domain":["AGN","SFG"],"range":["#ff0000","#0000ff"]},"legend":null}}}
  ]}},
{"transform":[{"filter":"datum.r==3"}],
 "facet":{"column":{"field":"p","type":"ordinal","title":null,"header":{"labels":false}}},
 "spacing":0,
 "spec":{"width":154,"height":111,
  "encoding":{
   "x":{"field":"x","type":"quantitative","scale":{"domain":[-0.01,1.495],"nice":false,"zero":false},"title":"r/Re","axis":{"values":[0.25,0.5,0.75,1,1.25],"format":".2f"}},
   "y":{"field":"y","type":"quantitative","scale":{"domain":[0.957,2.24],"nice":false,"zero":false},"title":"Dn4000","axis":{"values":[1,1.25,1.5,1.75,2],"format":".2f"}}},
  "layer":[
   {"transform":[{"filter":"!datum.m && datum.p<5"},{"fold":["0\\.12","0\\.37","0\\.62","0\\.87","1\\.12","1\\.37"],"as":["k","y"]}],
    "mark":{"type":"line","strokeWidth":0.9,"opacity":0.6,"clip":true},
    "encoding":{"x":{"field":"k","type":"quantitative","scale":{"domain":[-0.01,1.495],"nice":false,"zero":false},"title":"r/Re","axis":{"values":[0.25,0.5,0.75,1,1.25],"format":".2f"}},"stroke":{"field":"g","type":"nominal","scale":{"domain":["S","A"],"range":["#1f77b4","#e3292b"]},"legend":null},"detail":{"field":"i","type":"nominal"}}},
   {"transform":[{"filter":"!datum.m && datum.p==5"},{"fold":["0\\.12","0\\.37","0\\.62","0\\.87","1\\.12","1\\.37"],"as":["k","y"]}],
    "mark":{"type":"line","strokeWidth":1.5,"opacity":0.55,"clip":true},
    "encoding":{"x":{"field":"k","type":"quantitative","scale":{"domain":[-0.01,1.495],"nice":false,"zero":false},"title":"r/Re","axis":{"values":[0.25,0.5,0.75,1,1.25],"format":".2f"}},"stroke":{"field":"g","type":"nominal","scale":{"domain":["S","A"],"range":["#1f77b4","#e3292b"]},"legend":null},"detail":{"field":"i","type":"nominal"}}},
   {"transform":[{"filter":"datum.m==1"}],
    "mark":{"type":"line","strokeWidth":2},
    "encoding":{"color":{"field":"g","type":"nominal","scale":{"domain":["AGN","SFG"],"range":["#ff0000","#0000ff"]},"legend":null}}},
   {"transform":[{"filter":"datum.m==1"}],
    "mark":{"type":"rule","strokeWidth":2},
    "encoding":{"y":{"field":"lo","type":"quantitative","scale":{"domain":[0.957,2.24],"nice":false,"zero":false},"title":"Dn4000","axis":{"values":[1,1.25,1.5,1.75,2],"format":".2f"}},"y2":{"field":"hi"},"color":{"field":"g","type":"nominal","scale":{"domain":["AGN","SFG"],"range":["#ff0000","#0000ff"]},"legend":null}}},
   {"transform":[{"filter":"datum.m==1"}],
    "mark":{"type":"circle","size":45,"opacity":1},
    "encoding":{"color":{"field":"g","type":"nominal","scale":{"domain":["AGN","SFG"],"range":["#ff0000","#0000ff"]},"legend":null}}}
  ]}}
],
"config":{
 "font":"DejaVu Sans",
 "view":{"stroke":"#1a1a1a","strokeWidth":1},
 "axis":{"grid":false,"domain":false,"tickColor":"#1a1a1a","tickSize":3.5,"tickWidth":0.8,"labelFontSize":8,"labelColor":"#1a1a1a","labelPadding":2.5,"titleFontSize":12,"titleFontWeight":"normal","titleColor":"#000"},
 "axisY":{"minExtent":24,"maxExtent":24,"titlePadding":7},
 "axisX":{"titlePadding":2,"labelPadding":2},
 "header":{"labelFontSize":10,"labelColor":"#000"},
 "legend":{"labelColor":"#000"}
}
}
